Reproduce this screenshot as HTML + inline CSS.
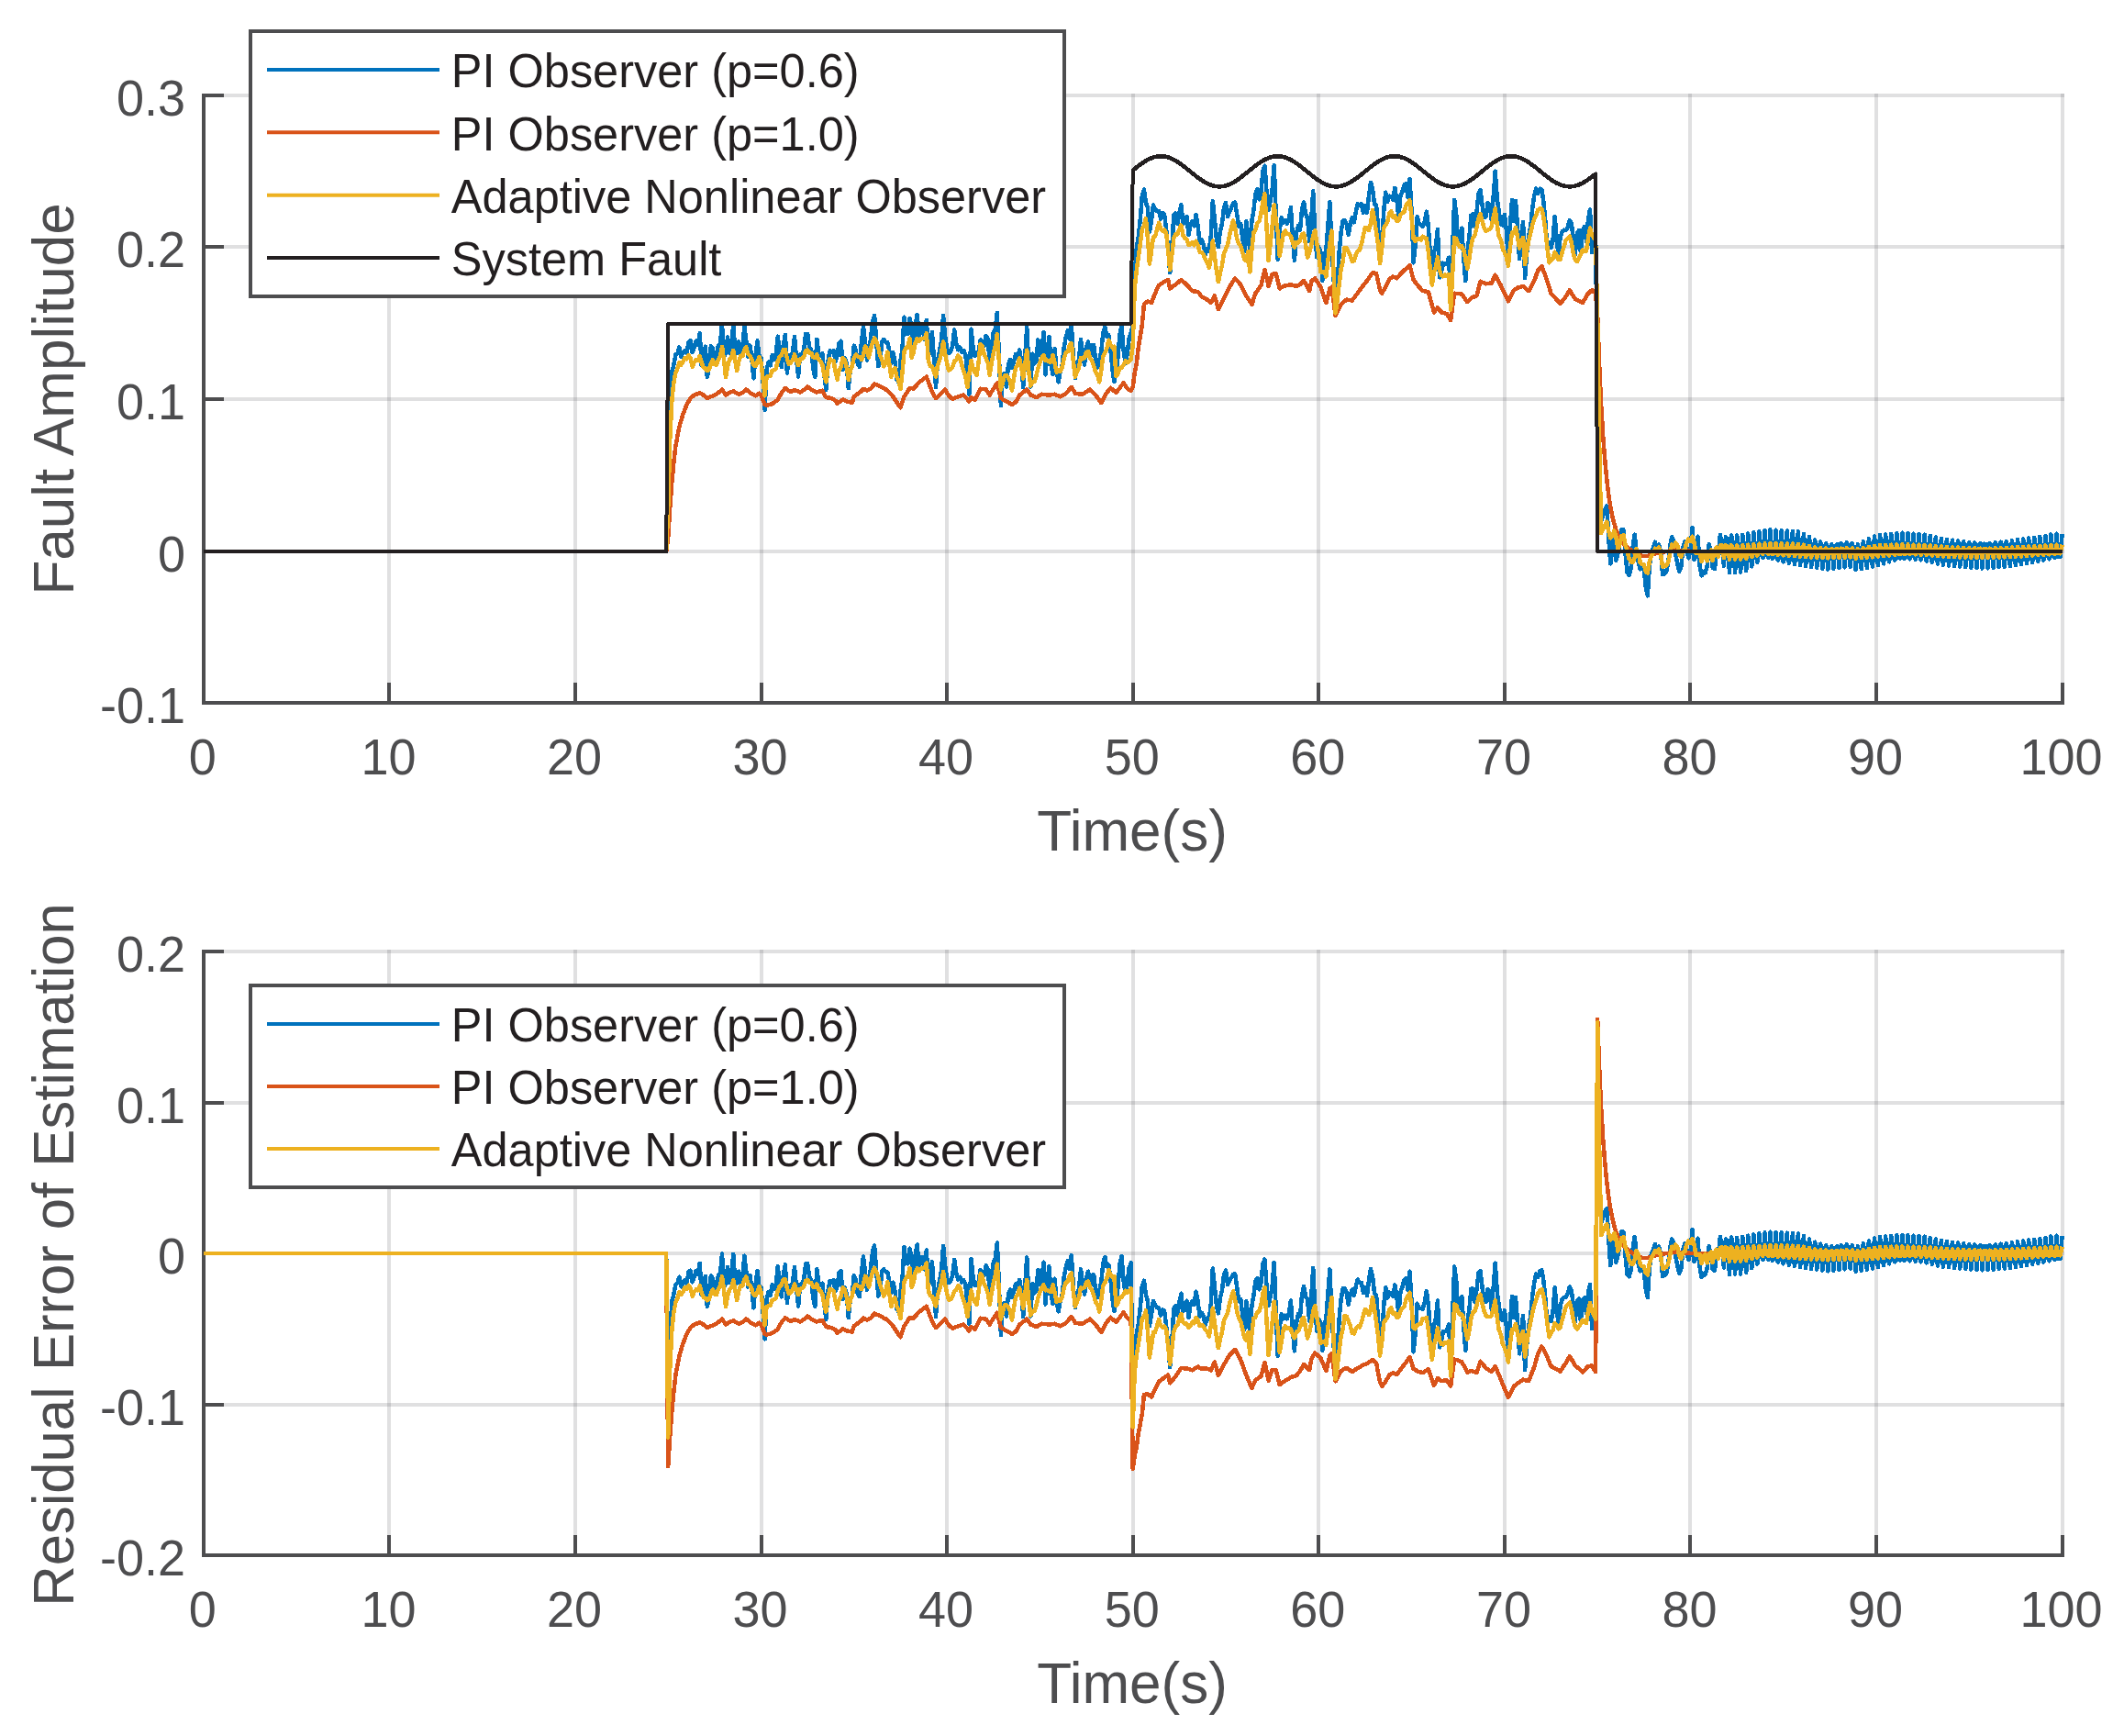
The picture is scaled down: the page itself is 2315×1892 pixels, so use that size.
<!DOCTYPE html>
<html lang="en"><head><meta charset="utf-8"><title>Fault estimation</title>
<style>html,body{margin:0;padding:0;background:#fff}svg{display:block}text{font-family:"Liberation Sans",Arial,Helvetica,sans-serif}.tk{font-size:54px;fill:#4d4d4f}.lb{font-size:62px;fill:#4d4d4f}.lg{font-size:50.5px;fill:#231f20}</style></head><body>
<svg width="2315" height="1892" viewBox="0 0 2315 1892">
<rect width="2315" height="1892" fill="#fff"/>
<path d="M424.0 102.0V766.0M627.0 102.0V766.0M830.0 102.0V766.0M1032.0 102.0V766.0M1235.0 102.0V766.0M1437.0 102.0V766.0M1640.0 102.0V766.0M1842.0 102.0V766.0M2045.0 102.0V766.0M2248.0 102.0V766.0" stroke="#4d4d4f" stroke-opacity=".174" stroke-width="4" fill="none" shape-rendering="crispEdges"/>
<path d="M222 601.0H2250.0M222 435.0H2250.0M222 269.0H2250.0M222 104.0H2250.0" stroke="#4d4d4f" stroke-opacity=".174" stroke-width="4" fill="none" shape-rendering="crispEdges"/>
<path d="M222 104.0V766.0H2248.0" stroke="#4d4d4f" stroke-width="4" fill="none" stroke-linecap="square" stroke-linejoin="miter" shape-rendering="crispEdges"/>
<path d="M222.0 766.0V744.0M424.0 766.0V744.0M627.0 766.0V744.0M830.0 766.0V744.0M1032.0 766.0V744.0M1235.0 766.0V744.0M1437.0 766.0V744.0M1640.0 766.0V744.0M1842.0 766.0V744.0M2045.0 766.0V744.0M2248.0 766.0V744.0M222 766.0H244M222 601.0H244M222 435.0H244M222 269.0H244M222 104.0H244" stroke="#4d4d4f" stroke-width="4" fill="none" shape-rendering="crispEdges"/>
<path d="M726.2 601L728.2 534.7L730.3 443.6L732.3 405.5L734.3 397.7L736.4 386.5L738.4 385.1L740.4 378.4L742.4 389L744.5 383.9L746.5 382L748.5 385.3L750.5 372.8L752.6 371.3L754.6 384.1L756.6 378.7L758.6 371.8L760.7 375.8L762.7 363.3L764.7 398.3L766.7 394.4L768.8 377.6L770.8 410.7L772.8 400.5L774.8 377.2L776.9 380L778.9 391.1L780.9 388.3L782.9 376.6L785 374.4L787 353.1L789 389.2L791 385.1L793.1 367.4L795.1 384.4L797.1 379.6L799.2 353.2L801.2 381.4L803.2 385.1L805.2 372.3L807.3 385.2L809.3 380.8L811.3 355.1L813.3 371.9L815.4 389.2L817.4 376.4L819.4 390.8L821.4 412.4L823.5 387L825.5 371.4L827.5 388.6L829.5 389.7L831.6 415.8L833.6 446.6L835.6 402.8L837.6 394.7L839.7 398.3L841.7 387L843.7 391.7L845.7 386.2L847.8 366.7L849.8 386.7L851.8 400.1L853.8 376.1L855.9 364.9L857.9 406.7L859.9 387.5L862 389.5L864 384L866 367.2L868 390.2L870.1 410.4L872.1 386.5L874.1 386.1L876.1 381.6L878.2 363.9L880.2 363.8L882.2 378.7L884.2 381.3L886.3 401.3L888.3 411L890.3 369.8L892.3 384.4L894.4 387.8L896.4 385.4L898.4 409.3L900.4 424.9L902.5 393.2L904.5 382.4L906.5 384L908.5 382.2L910.6 393.9L912.6 387.8L914.6 373.7L916.6 371.7L918.7 402.9L920.7 389.8L922.7 396.1L924.8 423.2L926.8 401.8L928.8 399.2L930.8 376.7L932.9 381.9L934.9 397.1L936.9 399.9L938.9 373.4L941 356L943 372.8L945 392.6L947 386.7L949.1 367.7L951.1 350.2L953.1 344.1L955.1 370.3L957.2 399.3L959.2 394.6L961.2 372.4L963.2 369.9L965.3 372.7L967.3 373.1L969.3 382.7L971.3 396.4L973.4 384.3L975.4 393.5L977.4 413.6L979.4 416.3L981.5 393.3L983.5 380.1L985.5 345.6L987.6 363.7L989.6 363.8L991.6 347.1L993.6 357.5L995.7 375.3L997.7 353.8L999.7 342.9L1001.7 368.2L1003.8 356.9L1005.8 356.3L1007.8 370.2L1009.8 348.9L1011.9 387.3L1013.9 382.8L1015.9 361.7L1017.9 390.7L1020 422L1022 394L1024 382.5L1026 371.9L1028.1 344.1L1030.1 366L1032.1 379.7L1034.1 384.9L1036.2 382.6L1038.2 377.1L1040.2 359.4L1042.2 373.7L1044.3 381.3L1046.3 378.4L1048.3 384.2L1050.4 382.1L1052.4 386.5L1054.4 412.6L1056.4 429.5L1058.5 358.5L1060.5 378.3L1062.5 387.9L1064.5 386.6L1066.6 383.5L1068.6 370.5L1070.6 372.4L1072.6 376.5L1074.7 365.8L1076.7 369.9L1078.7 394.9L1080.7 378.1L1082.8 361.9L1084.8 358.3L1086.8 340.8L1088.8 385L1090.9 442L1092.9 408.1L1094.9 407.1L1096.9 421.5L1099 397.8L1101 392L1103 400.9L1105 394L1107.1 385.9L1109.1 391.9L1111.1 381.4L1113.2 393.1L1115.2 422L1117.2 389.2L1119.2 356.8L1121.3 397.7L1123.3 421.6L1125.3 385.6L1127.3 396.3L1129.4 393.5L1131.4 370.4L1133.4 386.5L1135.4 381.5L1137.5 362.1L1139.5 408.5L1141.5 382.7L1143.5 366.8L1145.6 398.2L1147.6 408L1149.6 380.2L1151.6 405L1153.7 416.3L1155.7 404.2L1157.7 398L1159.7 378.5L1161.8 367.1L1163.8 360.4L1165.8 369.5L1167.8 354.6L1169.9 389.5L1171.9 411.9L1173.9 400.6L1176 391.2L1178 369.9L1180 385.2L1182 397.4L1184.1 378.9L1186.1 372.3L1188.1 389.8L1190.1 376.4L1192.2 376.1L1194.2 393.5L1196.2 400.7L1198.2 393.3L1200.3 382.8L1202.3 363.1L1204.3 356.2L1206.3 366.9L1208.4 365.3L1210.4 380.8L1212.4 402.1L1214.4 415.9L1216.5 404.9L1218.5 389.4L1220.5 364.4L1222.5 355.4L1224.6 382.2L1226.6 395.7L1228.6 386.8L1230.6 368.8L1232.7 362.9L1234.7 353.8L1236.7 299.8L1238.8 270.1L1240.8 258L1242.8 238.9L1244.8 214.1L1246.9 206.5L1248.9 220.7L1250.9 226.3L1252.9 252.9L1255 239.9L1257 223.6L1259 227.8L1261 229.9L1263.1 230L1265.1 238.4L1267.1 232.1L1269.1 233.7L1271.2 250.7L1273.2 271.7L1275.2 297.3L1277.2 272L1279.3 234.7L1281.3 232.4L1283.3 244.1L1285.3 232.1L1287.4 223.2L1289.4 244.5L1291.4 238L1293.4 235.9L1295.5 256L1297.5 243.9L1299.5 241.5L1301.6 246.4L1303.6 233.9L1305.6 246.1L1307.6 264.7L1309.7 261.5L1311.7 266.3L1313.7 277.4L1315.7 270.9L1317.8 273.5L1319.8 257.1L1321.8 219L1323.8 238.2L1325.9 260.4L1327.9 269.1L1329.9 251.9L1331.9 244.1L1334 226.5L1336 220.8L1338 236.1L1340 230.5L1342.1 226.4L1344.1 221.7L1346.1 220.4L1348.1 232.9L1350.2 246.8L1352.2 243.8L1354.2 258.7L1356.2 274.4L1358.3 241L1360.3 255.7L1362.3 272.5L1364.4 240.8L1366.4 229L1368.4 211.4L1370.4 206.1L1372.5 217.3L1374.5 208.2L1376.5 186L1378.5 180.6L1380.6 210.8L1382.6 229.1L1384.6 219.1L1386.6 207.4L1388.7 180.3L1390.7 233.2L1392.7 283.1L1394.7 251L1396.8 237.3L1398.8 242.8L1400.8 239.9L1402.8 244L1404.9 239.1L1406.9 226L1408.9 258L1410.9 283.7L1413 254.1L1415 245.9L1417 250.5L1419 228.8L1421.1 220.3L1423.1 233.3L1425.1 237.8L1427.2 263.2L1429.2 239.4L1431.2 208.3L1433.2 253.2L1435.3 280.4L1437.3 269.2L1439.3 274.1L1441.3 305.9L1443.4 279.4L1445.4 272.3L1447.4 245.9L1449.4 220.1L1451.5 271L1453.5 302.1L1455.5 339L1457.5 315.3L1459.6 275.2L1461.6 253.4L1463.6 240.8L1465.6 240.2L1467.7 243.9L1469.7 256L1471.7 243.9L1473.7 237.4L1475.8 242.2L1477.8 230.8L1479.8 222.1L1481.8 223.8L1483.9 222.2L1485.9 231.7L1487.9 223.8L1490 231.8L1492 213.2L1494 198.7L1496 205.6L1498.1 222.6L1500.1 223.8L1502.1 247.5L1504.1 286.4L1506.2 266.9L1508.2 230.2L1510.2 209.6L1512.2 220.1L1514.3 213.7L1516.3 214L1518.3 217.7L1520.3 204.8L1522.4 217.7L1524.4 236.6L1526.4 213.5L1528.4 209.1L1530.5 201.5L1532.5 200.4L1534.5 214.7L1536.5 195.2L1538.6 230.8L1540.6 286.3L1542.6 268.3L1544.6 236.3L1546.7 243.4L1548.7 244.8L1550.7 247L1552.8 241L1554.8 230.7L1556.8 246.9L1558.8 276.3L1560.9 304.2L1562.9 275.4L1564.9 268L1566.9 249.9L1569 302.4L1571 296.5L1573 286.7L1575 287.7L1577.1 287L1579.1 280.7L1581.1 323.1L1583.1 273.5L1585.2 217.7L1587.2 232.6L1589.2 264.9L1591.2 259.7L1593.3 248.6L1595.3 281.5L1597.3 306.2L1599.3 274.1L1601.4 258.9L1603.4 234.7L1605.4 233.3L1607.4 246.7L1609.5 230.8L1611.5 211L1613.5 207.3L1615.6 224.3L1617.6 236.6L1619.6 236.3L1621.6 220.8L1623.7 223L1625.7 240L1627.7 214.4L1629.7 186.6L1631.8 217.1L1633.8 231.1L1635.8 244.2L1637.8 245.5L1639.9 233.9L1641.9 251.4L1643.9 285.3L1645.9 246.8L1648 217.7L1650 241L1652 219.2L1654 247.4L1656.1 282L1658.1 255.9L1660.1 241.7L1662.1 302.8L1664.2 275.6L1666.2 257.4L1668.2 247.5L1670.2 227.1L1672.3 212.8L1674.3 205.6L1676.3 210.9L1678.4 205.7L1680.4 206.4L1682.4 219.8L1684.4 241.3L1686.5 271.4L1688.5 264.2L1690.5 269.9L1692.5 262.4L1694.6 235.9L1696.6 258.8L1698.6 279.8L1700.6 258.7L1702.7 252.4L1704.7 250.7L1706.7 251L1708.7 247.5L1710.8 240.1L1712.8 243.9L1714.8 259.5L1716.8 277.4L1718.9 254L1720.9 251L1722.9 275.4L1724.9 250.8L1727 247.1L1729 263L1731 239.1L1733 228.5L1735.1 275.3L1737.1 255.2L1739.1 254.5L1741.2 427L1743.2 518.2L1745.2 567.9L1747.2 561.6L1749.3 555.4L1751.3 551.6L1753.3 585.8L1755.3 614.3L1757.4 582L1759.4 598L1761.4 610.8L1763.4 603.3L1765.5 591.5L1767.5 577L1769.5 577.4L1771.5 603.3L1773.6 624.2L1775.6 626.6L1777.6 619.6L1779.6 595.7L1781.7 582.7L1783.7 602.2L1785.7 613L1787.7 620.4L1789.8 616.1L1791.8 620.3L1793.8 640.3L1795.8 649.3L1797.9 616.3L1799.9 601.6L1801.9 597.5L1803.9 590.7L1806 598L1808 593.5L1810 600.9L1812.1 626.1L1814.1 625.3L1816.1 623.3L1818.1 613.5L1820.2 595.2L1822.2 585.3L1824.2 588.7L1826.2 603.8L1828.3 615L1830.3 623L1832.3 617.5L1834.3 597.1L1836.4 590.4L1838.4 600.3L1840.4 608.3L1842.4 600.7L1844.5 575L1846.5 609.9L1848.5 606.4L1850.5 584.6L1852.6 616.5L1854.6 627.4L1856.6 623.6L1858.6 624.4L1860.7 617L1862.7 593.2L1864.7 602.3L1866.7 618.6L1868.8 620.1L1870.8 604L1872.8 604.2L1874.9 582.8L1876.9 596.3L1878.9 616.7L1880.9 585.3L1883 587L1885 624.1L1887 583.4L1889 592.3L1891.1 623.9L1893.1 583.5L1895.1 597L1897.1 623.7L1899.2 582.8L1901.2 600.7L1903.2 622L1905.2 581.5L1907.3 602L1909.3 617.3L1911.3 580.2L1913.3 602.7L1915.4 612.7L1917.4 579.2L1919.4 602.9L1921.4 608L1923.5 578.2L1925.5 604.4L1927.5 607.7L1929.5 577.3L1931.6 608.8L1933.6 607.4L1935.6 577.7L1937.7 610.6L1939.7 606.2L1941.7 578.1L1943.7 612.4L1945.8 604.9L1947.8 578.5L1949.8 613.9L1951.8 603.2L1953.9 578.9L1955.9 615L1957.9 601.3L1959.9 579.3L1962 616L1964 599.8L1966 581.7L1968 617L1970.1 599.5L1972.1 585.2L1974.1 618L1976.1 599.5L1978.2 588.6L1980.2 618.9L1982.2 599.2L1984.2 590.6L1986.3 619.7L1988.3 598.1L1990.3 591.8L1992.3 620.6L1994.4 596.9L1996.4 593.1L1998.4 619.8L2000.5 594.9L2002.5 592.9L2004.5 619.1L2006.5 592.3L2008.6 593.9L2010.6 618.4L2012.6 591.4L2014.6 595.6L2016.7 617.7L2018.7 591.8L2020.7 600L2022.7 621.2L2024.8 593.1L2026.8 602L2028.8 620.1L2030.8 590.2L2032.9 602.2L2034.9 618.9L2036.9 587.3L2038.9 602.6L2041 617.5L2043 584.4L2045 603.2L2047 616.1L2049.1 583L2051.1 604.7L2053.1 614.3L2055.1 582.4L2057.2 605.9L2059.2 612.3L2061.2 581.7L2063.3 607L2065.3 610.4L2067.3 581.1L2069.3 608.1L2071.4 608.5L2073.4 580.7L2075.4 608.8L2077.4 606.8L2079.5 581.1L2081.5 609.4L2083.5 605.3L2085.5 581.5L2087.6 609.9L2089.6 603.9L2091.6 581.9L2093.6 610.4L2095.7 602.5L2097.7 582.6L2099.7 611.6L2101.7 602.2L2103.8 584L2105.8 613.1L2107.8 601.9L2109.8 585.4L2111.9 614.6L2113.9 601.6L2115.9 586.8L2117.9 615.8L2120 601L2122 588L2124 616.4L2126.1 600L2128.1 588.7L2130.1 617.1L2132.1 598.9L2134.2 589.4L2136.2 617.7L2138.2 597.8L2140.2 590.1L2142.3 618.2L2144.3 596.7L2146.3 590.8L2148.3 618.7L2150.4 595.4L2152.4 591.5L2154.4 619.1L2156.4 594.1L2158.5 592.2L2160.5 619.6L2162.5 592.7L2164.5 593.3L2166.6 619.3L2168.6 592L2170.6 594.8L2172.6 618.8L2174.7 591.3L2176.7 596.2L2178.7 618.2L2180.7 590.6L2182.8 597.6L2184.8 617.7L2186.8 589.9L2188.9 598.8L2190.9 617.1L2192.9 589.1L2194.9 599.9L2197 616.2L2199 588.2L2201 600.8L2203 615.2L2205.1 587.4L2207.1 601.7L2209.1 614.1L2211.1 586.5L2213.2 602.6L2215.2 613.1L2217.2 585.7L2219.2 603.4L2221.3 611.9L2223.3 584.8L2225.3 604.1L2227.3 610.6L2229.4 583.8L2231.4 604.8L2233.4 609.3L2235.4 582.4L2237.5 605.5L2239.5 608.1L2241.5 581.5L2243.5 606.6L2245.6 607L2247.6 581.7" stroke="#0072bd" stroke-width="4.5" fill="none" stroke-linejoin="round" stroke-linecap="butt" shape-rendering="crispEdges"/>
<path d="M726.2 601L728.2 586.1L730.3 552.3L732.3 525.8L734.3 504.9L736.4 485.9L738.4 475.5L740.4 465.1L742.4 458.2L744.5 451.3L746.5 446.1L748.5 440.9L750.5 437.5L752.6 434L754.6 432.3L756.6 430.6L758.6 429.8L760.7 429.1L762.7 428.3L764.7 429.5L766.7 430.6L768.8 432.3L770.8 434L772.8 433.2L774.8 432.3L776.9 431.4L778.9 430.6L780.9 429.7L782.9 428L785 426.3L787 424.5L789 427.6L791 430.6L793.1 429.3L795.1 428L797.1 427.1L799.2 426.3L801.2 427.4L803.2 428.6L805.2 429.7L807.3 428.8L809.3 428L811.3 426.3L813.3 424.5L815.4 426.3L817.4 428L819.4 429.1L821.4 430.3L823.5 431.4L825.5 430.1L827.5 428.8L829.5 430.6L831.6 435.8L833.6 440.9L835.6 441.8L837.6 441.2L839.7 440.7L841.7 440.1L843.7 438.6L845.7 437.2L847.8 435.8L849.8 431.9L851.8 428L853.8 425.6L855.9 423.1L857.9 424.5L859.9 425.8L862 427.1L864 426.1L866 425L868 425.9L870.1 426.7L872.1 427.5L874.1 426.3L876.1 425L878.2 423.3L880.2 421.6L882.2 423L884.2 424.4L886.3 425.7L888.3 426.6L890.3 427.5L892.3 426.9L894.4 426.3L896.4 425.7L898.4 429.5L900.4 433.2L902.5 433.5L904.5 433.7L906.5 434L908.5 435.3L910.6 436.6L912.6 439.7L914.6 438.3L916.6 436.9L918.7 435.4L920.7 436.4L922.7 437.5L924.8 437.9L926.8 438.3L928.8 438.7L930.8 432.3L932.9 430.7L934.9 429.2L936.9 427.7L938.9 426.3L941 423.7L943 424.5L945 425.4L947 424.5L949.1 423.7L951.1 421.1L953.1 418.5L955.1 419.3L957.2 420.2L959.2 421.2L961.2 422.3L963.2 423.3L965.3 424.4L967.3 425.4L969.3 427.7L971.3 430L973.4 432.3L975.4 435.3L977.4 438.3L979.4 441.4L981.5 444.4L983.5 438.3L985.5 432.3L987.6 429.1L989.6 426L991.6 422.8L993.6 423.2L995.7 423.7L997.7 421.4L999.7 419.1L1001.7 416.8L1003.8 415.2L1005.8 413.7L1007.8 412.2L1009.8 410.7L1011.9 416.2L1013.9 421.6L1015.9 427.1L1017.9 430.6L1020 434L1022 432.3L1024 430.6L1026 428.6L1028.1 426.5L1030.1 424.5L1032.1 428L1034.1 431.4L1036.2 433.2L1038.2 434.9L1040.2 434L1042.2 433.2L1044.3 432.3L1046.3 431.7L1048.3 431.1L1050.4 430.6L1052.4 432.9L1054.4 435.2L1056.4 437.5L1058.5 433.2L1060.5 434.5L1062.5 435.8L1064.5 431.7L1066.6 427.7L1068.6 423.7L1070.6 424L1072.6 424.2L1074.7 424.5L1076.7 427.6L1078.7 430.6L1080.7 427.1L1082.8 423.7L1084.8 420.6L1086.8 417.6L1088.8 425.8L1090.9 434L1092.9 435.2L1094.9 436.3L1096.9 437.5L1099 438.6L1101 439.8L1103 440.9L1105 439.6L1107.1 438.3L1109.1 434.5L1111.1 430.6L1113.2 429.1L1115.2 427.6L1117.2 426L1119.2 424.5L1121.3 427.6L1123.3 430.6L1125.3 431.4L1127.3 432.3L1129.4 433.2L1131.4 432L1133.4 430.9L1135.4 429.7L1137.5 429.9L1139.5 430.1L1141.5 430.4L1143.5 430.6L1145.6 430.3L1147.6 430L1149.6 429.7L1151.6 430.6L1153.7 431.4L1155.7 432.3L1157.7 431.1L1159.7 430L1161.8 428.8L1163.8 426.5L1165.8 424.2L1167.8 421.9L1169.9 425.4L1171.9 428.8L1173.9 429.1L1176 429.3L1178 429.5L1180 429.7L1182 428.4L1184.1 427.1L1186.1 425.8L1188.1 424.5L1190.1 426.5L1192.2 428.6L1194.2 430.6L1196.2 433.5L1198.2 436.3L1200.3 439.2L1202.3 435.5L1204.3 431.7L1206.3 428L1208.4 425.4L1210.4 422.8L1212.4 424.5L1214.4 426.3L1216.5 428L1218.5 425.3L1220.5 422.6L1222.5 420L1224.6 417.3L1226.6 420.3L1228.6 423.3L1230.6 424.6L1232.7 425.9L1234.7 422L1236.7 406.1L1238.8 395.7L1240.8 378.4L1242.8 366.3L1244.8 354.2L1246.9 331.8L1248.9 330L1250.9 328.3L1252.9 329.2L1255 330L1257 324.9L1259 319.7L1261 315.4L1263.1 311L1265.1 309.6L1267.1 308.2L1269.1 306.7L1271.2 305.9L1273.2 305L1275.2 314.5L1277.2 313.1L1279.3 311.6L1281.3 310.2L1283.3 308.5L1285.3 306.7L1287.4 305L1289.4 306.7L1291.4 308.5L1293.4 310.2L1295.5 312.5L1297.5 314.8L1299.5 317.1L1301.6 317.4L1303.6 317.7L1305.6 318L1307.6 320.5L1309.7 323.1L1311.7 324.3L1313.7 325.4L1315.7 326.6L1317.8 328.3L1319.8 330L1321.8 326.2L1323.8 322.3L1325.9 329.6L1327.9 337L1329.9 332.9L1331.9 328.9L1334 324.9L1336 320.8L1338 316.8L1340 312.8L1342.1 309.6L1344.1 306.4L1346.1 303.3L1348.1 305.6L1350.2 307.9L1352.2 310.2L1354.2 314.2L1356.2 318.2L1358.3 322.3L1360.3 325.4L1362.3 328.6L1364.4 331.8L1366.4 325.7L1368.4 319.7L1370.4 316.8L1372.5 313.9L1374.5 311L1376.5 302.4L1378.5 293.8L1380.6 302.8L1382.6 311.9L1384.6 305.4L1386.6 298.9L1388.7 298.5L1390.7 298.1L1392.7 306.3L1394.7 314.5L1396.8 313.2L1398.8 311.9L1400.8 311.5L1402.8 311L1404.9 310.6L1406.9 310.2L1408.9 310.8L1410.9 311.3L1413 311.9L1415 311L1417 310.2L1419 308L1421.1 305.9L1423.1 309.6L1425.1 313.3L1427.2 317.1L1429.2 306.7L1431.2 305L1433.2 303.3L1435.3 306.4L1437.3 309.6L1439.3 312.8L1441.3 318.5L1443.4 324.3L1445.4 330L1447.4 322.3L1449.4 314.5L1451.5 312.8L1453.5 328.3L1455.5 343.9L1457.5 339.8L1459.6 335.8L1461.6 331.8L1463.6 330L1465.6 328.3L1467.7 326.6L1469.7 326.9L1471.7 327.2L1473.7 327.5L1475.8 324.7L1477.8 322L1479.8 319.3L1481.8 316.5L1483.9 313.8L1485.9 311L1487.9 308.5L1490 305.9L1492 303L1494 300.1L1496 297.2L1498.1 297.7L1500.1 298.1L1502.1 307.2L1504.1 316.2L1506.2 319.7L1508.2 316.2L1510.2 312.8L1512.2 308.5L1514.3 304.1L1516.3 302.8L1518.3 301.5L1520.3 302.4L1522.4 303.3L1524.4 301L1526.4 298.7L1528.4 296.4L1530.5 294.6L1532.5 292.9L1534.5 291.2L1536.5 289.4L1538.6 297.2L1540.6 305L1542.6 307.6L1544.6 310.2L1546.7 312.8L1548.7 314.9L1550.7 317.1L1552.8 317.4L1554.8 317.7L1556.8 318L1558.8 325.4L1560.9 332.9L1562.9 340.4L1564.9 337.8L1566.9 335.2L1569 337.8L1571 340.4L1573 341L1575 341.6L1577.1 342.1L1579.1 345.6L1581.1 349.1L1583.1 334.4L1585.2 319.7L1587.2 319.9L1589.2 320.1L1591.2 320.3L1593.3 320.5L1595.3 323.4L1597.3 326.3L1599.3 329.2L1601.4 327L1603.4 324.9L1605.4 324L1607.4 323.1L1609.5 322.3L1611.5 314.5L1613.5 306.7L1615.6 307.6L1617.6 308.5L1619.6 309.3L1621.6 309L1623.7 308.7L1625.7 308.5L1627.7 304.1L1629.7 299.8L1631.8 303.6L1633.8 307.3L1635.8 311L1637.8 315.4L1639.9 319.7L1641.9 324L1643.9 328.3L1645.9 324.3L1648 320.3L1650 316.2L1652 314.9L1654 313.6L1656.1 313.1L1658.1 312.5L1660.1 311.9L1662.1 313.6L1664.2 315.4L1666.2 317.1L1668.2 313.3L1670.2 309.6L1672.3 305.9L1674.3 300.2L1676.3 294.6L1678.4 292.5L1680.4 290.3L1682.4 295.5L1684.4 300.7L1686.5 307L1688.5 313.3L1690.5 319.7L1692.5 322L1694.6 324.3L1696.6 326.6L1698.6 328.8L1700.6 330.9L1702.7 328.3L1704.7 325.7L1706.7 323.1L1708.7 319.7L1710.8 316.2L1712.8 319.4L1714.8 322.6L1716.8 325.7L1718.9 326.8L1720.9 327.9L1722.9 329L1724.9 330L1727 326.6L1729 323.1L1731 319.7L1733 318L1735.1 316.2L1737.1 318L1739.1 319.7L1741.2 344.2L1743.2 398.6L1745.2 441.5L1747.2 475.3L1749.3 501.9L1751.3 522.9L1753.3 539.5L1755.3 552.5L1757.4 562.8L1759.4 570.9L1761.4 577.3L1763.4 582.4L1765.5 586.4L1767.5 589.7L1769.5 592.3L1771.5 594.5L1773.6 596.4L1775.6 598.1L1777.6 599.6L1779.6 601L1781.7 602.3L1783.7 603.5L1785.7 604.5L1787.7 605.3L1789.8 605.8L1791.8 606.1L1793.8 606.2L1795.8 605.9L1797.9 605.5L1799.9 604.9L1801.9 604.3L1803.9 603.6L1806 603L1808 602.4L1810 602L1812.1 601.6L1814.1 601.3L1816.1 601L1818.1 600.7L1820.2 600.4L1822.2 600.1L1824.2 599.9L1826.2 599.7L1830.3 599.7L1832.3 599.9L1834.3 600.1L1836.4 600.3L1838.4 600.5L1840.4 600.7L1842.4 600.8L1844.5 600.9L1846.5 600.9L1848.5 601L1852.6 601" stroke="#d95319" stroke-width="4.5" fill="none" stroke-linejoin="round" stroke-linecap="butt" shape-rendering="crispEdges"/>
<path d="M726.2 601L728.2 554.6L730.3 476.7L732.3 437L734.3 417.1L736.4 406.4L738.4 401.6L740.4 395.1L742.4 397.6L744.5 394.3L746.5 390.2L748.5 391.4L750.5 387.3L752.6 390.5L754.6 399.6L756.6 395L758.6 392.3L760.7 393.1L762.7 387.9L764.7 395.4L766.7 400.5L768.8 401.6L770.8 404.2L772.8 402.9L774.8 396.6L776.9 392.1L778.9 397.2L780.9 397.9L782.9 391.9L785 387.9L787 377.8L789 392L791 411L793.1 399.3L795.1 391.9L797.1 390.2L799.2 381.9L801.2 392L803.2 404.1L805.2 393.9L807.3 387.6L809.3 388.1L811.3 381.1L813.3 378.2L815.4 386.2L817.4 387.5L819.4 391.9L821.4 398.2L823.5 398.8L825.5 394.5L827.5 389.2L829.5 395.2L831.6 412.4L833.6 431.5L835.6 410.7L837.6 410.2L839.7 409.5L841.7 403.8L843.7 403.2L845.7 402L847.8 393.3L849.8 388.6L851.8 387.1L853.8 381.1L855.9 380.9L857.9 390.9L859.9 396.7L862 395.2L864 392.2L866 386.2L868 392.5L870.1 398.1L872.1 391.5L874.1 390.9L876.1 389.3L878.2 382.3L880.2 381.5L882.2 384.5L884.2 384.8L886.3 389.4L888.3 389.9L890.3 386.2L892.3 392.1L894.4 394L896.4 397.9L898.4 409.2L900.4 416.4L902.5 400.2L904.5 391.4L906.5 392.9L908.5 393.3L910.6 405L912.6 413.6L914.6 403.2L916.6 399.9L918.7 390L920.7 392.5L922.7 400.3L924.8 414.1L926.8 403.9L928.8 398.7L930.8 389.7L932.9 386.6L934.9 388.3L936.9 389.1L938.9 392L941 386.8L943 377.4L945 380.4L947 389.4L949.1 379.8L951.1 372.8L953.1 368.6L955.1 372.3L957.2 378.4L959.2 387.4L961.2 392L963.2 399.3L965.3 394.9L967.3 383.7L969.3 396.8L971.3 411L973.4 403.5L975.4 401.2L977.4 410.4L979.4 415.2L981.5 423.9L983.5 405.8L985.5 383.4L987.6 379.3L989.6 376.9L991.6 368.6L993.6 389.6L995.7 384.4L997.7 373.5L999.7 369L1001.7 371.9L1003.8 369.3L1005.8 368.8L1007.8 368.6L1009.8 363.2L1011.9 393.5L1013.9 399L1015.9 399.4L1017.9 405.3L1020 410.6L1022 398.1L1024 392.9L1026 384.9L1028.1 372.5L1030.1 385.8L1032.1 396L1034.1 403.6L1036.2 402.7L1038.2 399.9L1040.2 393.7L1042.2 392.4L1044.3 387.6L1046.3 389.7L1048.3 397.7L1050.4 404.9L1052.4 410.5L1054.4 422.1L1056.4 408.2L1058.5 393.1L1060.5 401.6L1062.5 405.8L1064.5 408.8L1066.6 394.7L1068.6 375L1070.6 377.6L1072.6 386.1L1074.7 390.5L1076.7 395.9L1078.7 408.8L1080.7 396.4L1082.8 384.6L1084.8 376.8L1086.8 364.3L1088.8 392.4L1090.9 424.5L1092.9 417.2L1094.9 409.6L1096.9 408.9L1099 411.5L1101 416L1103 425.5L1105 411.8L1107.1 400.4L1109.1 398.3L1111.1 390.5L1113.2 400.1L1115.2 412.6L1117.2 397.2L1119.2 381.6L1121.3 404.8L1123.3 420.5L1125.3 416.4L1127.3 416.2L1129.4 410L1131.4 401.1L1133.4 395.4L1135.4 389.9L1137.5 387.2L1139.5 393.1L1141.5 392.7L1143.5 394.3L1145.6 394.5L1147.6 387.1L1149.6 395.7L1151.6 405.8L1153.7 403.4L1155.7 404.9L1157.7 400L1159.7 390.6L1161.8 384.2L1163.8 383.2L1165.8 376.4L1167.8 374L1169.9 394.5L1171.9 410.9L1173.9 405.3L1176 400.5L1178 390.3L1180 390.7L1182 390L1184.1 383.9L1186.1 383.1L1188.1 390.5L1190.1 392.8L1192.2 398.8L1194.2 406L1196.2 408.3L1198.2 416.3L1200.3 403.6L1202.3 388L1204.3 384.7L1206.3 379.8L1208.4 370.7L1210.4 375.6L1212.4 378.6L1214.4 377.6L1216.5 409.8L1218.5 407.1L1220.5 400.8L1222.5 400.6L1224.6 397.6L1226.6 393.5L1228.6 395.3L1230.6 394.1L1232.7 391.2L1234.7 376.5L1236.7 314.4L1238.8 294.4L1240.8 280.3L1242.8 265.9L1244.8 249.5L1246.9 245.9L1248.9 238.1L1250.9 259.1L1252.9 287.5L1255 273.4L1257 258.2L1259 257.6L1261 250.5L1263.1 242.7L1265.1 249.6L1267.1 251.5L1269.1 250.5L1271.2 254.9L1273.2 273.4L1275.2 293.9L1277.2 278.8L1279.3 259.8L1281.3 255.2L1283.3 255.4L1285.3 250L1287.4 245.6L1289.4 256.3L1291.4 259.6L1293.4 261L1295.5 266.7L1297.5 266.4L1299.5 264.2L1301.6 267.2L1303.6 262.7L1305.6 266.9L1307.6 274.7L1309.7 274.8L1311.7 277.2L1313.7 282.8L1315.7 285.9L1317.8 292L1319.8 281L1321.8 262.4L1323.8 278.3L1325.9 294.9L1327.9 307.2L1329.9 297.5L1331.9 289.7L1334 276L1336 271.6L1338 267.1L1340 256.8L1342.1 248L1344.1 240.3L1346.1 247.7L1348.1 259.8L1350.2 265.8L1352.2 267.8L1354.2 274.9L1356.2 282.2L1358.3 284.3L1360.3 274L1362.3 296.3L1364.4 271.3L1366.4 253.3L1368.4 250.7L1370.4 243.2L1372.5 241.4L1374.5 232.4L1376.5 219L1378.5 211.3L1380.6 249L1382.6 284.1L1384.6 265.9L1386.6 247.5L1388.7 223.5L1390.7 239.2L1392.7 252.6L1394.7 278.9L1396.8 267.1L1398.8 254.2L1400.8 251.4L1402.8 254.7L1404.9 254.9L1406.9 257.5L1408.9 264.4L1410.9 269.5L1413 264.2L1415 264.8L1417 261.8L1419 255.2L1421.1 254.5L1423.1 267.5L1425.1 280.7L1427.2 275.4L1429.2 267.3L1431.2 256.5L1433.2 251.2L1435.3 265.5L1437.3 277.3L1439.3 296.3L1441.3 296.5L1443.4 296.4L1445.4 301.6L1447.4 284.2L1449.4 265.3L1451.5 251.5L1453.5 295.8L1455.5 341.5L1457.5 328.8L1459.6 310.4L1461.6 293.2L1463.6 285.3L1465.6 269.9L1467.7 269.9L1469.7 274.1L1471.7 278L1473.7 284.7L1475.8 284.2L1477.8 277.7L1479.8 273.5L1481.8 272.8L1483.9 266.1L1485.9 256.4L1487.9 248.2L1490 248.7L1492 251.1L1494 243.5L1496 228.7L1498.1 239.8L1500.1 253.4L1502.1 267.5L1504.1 287.1L1506.2 270.7L1508.2 248.6L1510.2 245.1L1512.2 241.8L1514.3 232.7L1516.3 230.3L1518.3 236.6L1520.3 235.5L1522.4 240.9L1524.4 240.3L1526.4 234.3L1528.4 231.8L1530.5 231.3L1532.5 223.8L1534.5 221.2L1536.5 218.5L1538.6 237.5L1540.6 260.3L1542.6 262.6L1544.6 260L1546.7 260.5L1548.7 261.5L1550.7 257.6L1552.8 259.4L1554.8 259.7L1556.8 274.5L1558.8 293.1L1560.9 310.6L1562.9 296.7L1564.9 290.5L1566.9 280.2L1569 295L1571 300.1L1573 301.3L1575 299.6L1577.1 300.9L1579.1 299L1581.1 337.6L1583.1 299.3L1585.2 259.1L1587.2 259.8L1589.2 266.5L1591.2 269.3L1593.3 268.5L1595.3 272.4L1597.3 283.1L1599.3 292.8L1601.4 282.3L1603.4 267.4L1605.4 259.2L1607.4 256.4L1609.5 248.2L1611.5 237.9L1613.5 233.2L1615.6 241.6L1617.6 248L1619.6 252L1621.6 250.8L1623.7 249.8L1625.7 246.9L1627.7 236.8L1629.7 227.4L1631.8 245.5L1633.8 258L1635.8 261.5L1637.8 271.2L1639.9 275.2L1641.9 280.3L1643.9 289.7L1645.9 269.9L1648 253.6L1650 253.8L1652 248L1654 258.4L1656.1 270.7L1658.1 262.7L1660.1 259L1662.1 288L1664.2 273.5L1666.2 262.1L1668.2 254.1L1670.2 245.1L1672.3 238.5L1674.3 234.4L1676.3 228.8L1678.4 227.1L1680.4 227.4L1682.4 237.1L1684.4 250.9L1686.5 270.7L1688.5 286.3L1690.5 283.3L1692.5 281.6L1694.6 274.7L1696.6 278.3L1698.6 283.2L1700.6 282.6L1702.7 274.7L1704.7 268.7L1706.7 261.5L1708.7 259.5L1710.8 257.4L1712.8 264.7L1714.8 275.9L1716.8 282.9L1718.9 285L1720.9 281.6L1722.9 277.2L1724.9 272.6L1727 273.8L1729 273.6L1731 259L1733 248.6L1735.1 256.1L1737.1 259L1739.1 261.7L1741.2 347.5L1743.2 485L1745.2 581.1L1747.2 576.6L1749.3 572.1L1751.3 568.7L1753.3 579.4L1755.3 586.3L1757.4 584.4L1759.4 578.6L1761.4 584.9L1763.4 598.6L1765.5 593.1L1767.5 584.4L1769.5 583.2L1771.5 593.3L1773.6 600.4L1775.6 608.7L1777.6 612.2L1779.6 613.1L1781.7 608L1783.7 598L1785.7 601.9L1787.7 613.1L1789.8 615.2L1791.8 615.3L1793.8 622.7L1795.8 624.6L1797.9 611.8L1799.9 606.2L1801.9 602.6L1803.9 597.7L1806 599.9L1808 596.2L1810 603.4L1812.1 617.6L1814.1 617.2L1816.1 616.2L1818.1 613L1820.2 603.5L1822.2 593.6L1824.2 595.8L1826.2 591.6L1828.3 594.6L1830.3 604.2L1832.3 606.9L1834.3 599.9L1836.4 599L1838.4 591.3L1840.4 587.5L1842.4 589.7L1844.5 584.8L1846.5 590.8L1848.5 603.2L1850.5 601.9L1852.6 602.2L1854.6 612.1L1856.6 604.8L1858.6 601.7L1860.7 611.4L1862.7 602.5L1864.7 599.6L1866.7 611.2L1868.8 599.8L1870.8 596.6L1872.8 607L1874.9 594.7L1876.9 594.2L1878.9 607.9L1880.9 594.2L1883 595.7L1885 609.8L1887 594.3L1889 597.7L1891.1 609.7L1893.1 594.4L1895.1 599.5L1897.1 609.6L1899.2 594.1L1901.2 600.9L1903.2 609L1905.2 593.6L1907.3 601.4L1909.3 607.2L1911.3 593.1L1913.3 601.6L1915.4 605.4L1917.4 592.7L1919.4 601.7L1921.4 603.7L1923.5 592.4L1925.5 602.3L1927.5 603.5L1929.5 592L1931.6 604L1933.6 603.4L1935.6 592.1L1937.7 604.7L1939.7 603L1941.7 592.3L1943.7 605.3L1945.8 602.5L1947.8 592.5L1949.8 605.9L1951.8 601.8L1953.9 592.6L1955.9 606.3L1957.9 601.1L1959.9 592.8L1962 606.7L1964 600.5L1966 593.7L1968 607.1L1970.1 600.4L1972.1 595L1974.1 607.5L1976.1 600.4L1978.2 596.3L1980.2 607.8L1982.2 600.3L1984.2 597L1986.3 608.1L1988.3 599.9L1990.3 597.5L1992.3 608.4L1994.4 599.4L1996.4 598L1998.4 608.2L2000.5 598.7L2002.5 597.9L2004.5 607.9L2006.5 597.7L2008.6 598.3L2010.6 607.6L2012.6 597.3L2014.6 598.9L2016.7 607.4L2018.7 597.5L2020.7 600.6L2022.7 608.7L2024.8 598L2026.8 601.4L2028.8 608.2L2030.8 596.9L2032.9 601.4L2034.9 607.8L2036.9 595.8L2038.9 601.6L2041 607.3L2043 594.7L2045 601.8L2047 606.7L2049.1 594.2L2051.1 602.4L2053.1 606L2055.1 593.9L2057.2 602.9L2059.2 605.3L2061.2 593.7L2063.3 603.3L2065.3 604.6L2067.3 593.4L2069.3 603.7L2071.4 603.8L2073.4 593.3L2075.4 604L2077.4 603.2L2079.5 593.4L2081.5 604.2L2083.5 602.6L2085.5 593.6L2087.6 604.4L2089.6 602.1L2091.6 593.7L2093.6 604.6L2095.7 601.6L2097.7 594L2099.7 605L2101.7 601.4L2103.8 594.5L2105.8 605.6L2107.8 601.3L2109.8 595.1L2111.9 606.2L2113.9 601.2L2115.9 595.6L2117.9 606.6L2120 601L2122 596.1L2124 606.9L2126.1 600.6L2128.1 596.3L2130.1 607.1L2132.1 600.2L2134.2 596.6L2136.2 607.4L2138.2 599.8L2140.2 596.9L2142.3 607.5L2144.3 599.3L2146.3 597.1L2148.3 607.7L2150.4 598.9L2152.4 597.4L2154.4 607.9L2156.4 598.4L2158.5 597.7L2160.5 608.1L2162.5 597.9L2164.5 598.1L2166.6 608L2168.6 597.6L2170.6 598.6L2172.6 607.8L2174.7 597.3L2176.7 599.2L2178.7 607.5L2180.7 597L2182.8 599.7L2184.8 607.3L2186.8 596.8L2188.9 600.2L2190.9 607.1L2192.9 596.5L2194.9 600.6L2197 606.8L2199 596.1L2201 600.9L2203 606.4L2205.1 595.8L2207.1 601.3L2209.1 606L2211.1 595.5L2213.2 601.6L2215.2 605.6L2217.2 595.2L2219.2 601.9L2221.3 605.1L2223.3 594.9L2225.3 602.2L2227.3 604.7L2229.4 594.5L2231.4 602.4L2233.4 604.2L2235.4 593.9L2237.5 602.7L2239.5 603.7L2241.5 593.6L2243.5 603.1L2245.6 603.3L2247.6 593.7" stroke="#edb120" stroke-width="4.5" fill="none" stroke-linejoin="round" stroke-linecap="butt" shape-rendering="crispEdges"/>
<path d="M221.8 601L726.2 601L728.2 352.5L1232.7 352.5L1234.7 185.7L1236.7 184L1238.8 182.4L1240.8 180.8L1242.8 179.3L1244.8 177.9L1246.9 176.5L1248.9 175.3L1250.9 174.1L1252.9 173.1L1255 172.3L1257 171.5L1259 171L1261 170.5L1263.1 170.3L1265.1 170.2L1267.1 170.3L1269.1 170.5L1271.2 170.9L1273.2 171.4L1275.2 172.2L1277.2 173L1279.3 174L1281.3 175.1L1283.3 176.4L1285.3 177.7L1287.4 179.1L1289.4 180.6L1291.4 182.2L1293.4 183.8L1295.5 185.5L1297.5 187.1L1299.5 188.8L1301.6 190.4L1303.6 192L1305.6 193.6L1307.6 195L1309.7 196.4L1311.7 197.7L1313.7 198.9L1315.7 200L1317.8 200.9L1319.8 201.7L1321.8 202.3L1323.8 202.8L1325.9 203.1L1327.9 203.3L1329.9 203.3L1331.9 203.1L1334 202.8L1336 202.3L1338 201.7L1340 200.9L1342.1 199.9L1344.1 198.9L1346.1 197.7L1348.1 196.4L1350.2 195L1352.2 193.5L1354.2 191.9L1356.2 190.3L1358.3 188.7L1360.3 187.1L1362.3 185.4L1364.4 183.8L1366.4 182.1L1368.4 180.6L1370.4 179.1L1372.5 177.7L1374.5 176.3L1376.5 175.1L1378.5 174L1380.6 173L1382.6 172.1L1384.6 171.4L1386.6 170.9L1388.7 170.5L1390.7 170.2L1392.7 170.2L1394.7 170.3L1396.8 170.5L1398.8 171L1400.8 171.6L1402.8 172.3L1404.9 173.2L1406.9 174.2L1408.9 175.3L1410.9 176.6L1413 177.9L1415 179.4L1417 180.9L1419 182.5L1421.1 184.1L1423.1 185.8L1425.1 187.4L1427.2 189.1L1429.2 190.7L1431.2 192.3L1433.2 193.8L1435.3 195.3L1437.3 196.6L1439.3 197.9L1441.3 199.1L1443.4 200.1L1445.4 201L1447.4 201.8L1449.4 202.4L1451.5 202.9L1453.5 203.2L1455.5 203.3L1457.5 203.3L1459.6 203.1L1461.6 202.7L1463.6 202.2L1465.6 201.5L1467.7 200.7L1469.7 199.7L1471.7 198.7L1473.7 197.4L1475.8 196.1L1477.8 194.7L1479.8 193.2L1481.8 191.7L1483.9 190.1L1485.9 188.4L1487.9 186.8L1490 185.1L1492 183.5L1494 181.9L1496 180.3L1498.1 178.8L1500.1 177.4L1502.1 176.1L1504.1 174.9L1506.2 173.8L1508.2 172.8L1510.2 172L1512.2 171.3L1514.3 170.8L1516.3 170.4L1518.3 170.2L1520.3 170.2L1522.4 170.3L1524.4 170.6L1526.4 171.1L1528.4 171.7L1530.5 172.4L1532.5 173.3L1534.5 174.4L1536.5 175.5L1538.6 176.8L1540.6 178.2L1542.6 179.6L1544.6 181.2L1546.7 182.8L1548.7 184.4L1550.7 186L1552.8 187.7L1554.8 189.3L1556.8 191L1558.8 192.5L1560.9 194.1L1562.9 195.5L1564.9 196.9L1566.9 198.1L1569 199.3L1571 200.3L1573 201.2L1575 201.9L1577.1 202.5L1579.1 202.9L1581.1 203.2L1583.1 203.3L1585.2 203.3L1587.2 203L1589.2 202.6L1591.2 202.1L1593.3 201.4L1595.3 200.6L1597.3 199.6L1599.3 198.5L1601.4 197.2L1603.4 195.9L1605.4 194.5L1607.4 193L1609.5 191.4L1611.5 189.8L1613.5 188.2L1615.6 186.5L1617.6 184.8L1619.6 183.2L1621.6 181.6L1623.7 180.1L1625.7 178.6L1627.7 177.2L1629.7 175.9L1631.8 174.7L1633.8 173.6L1635.8 172.7L1637.8 171.9L1639.9 171.2L1641.9 170.7L1643.9 170.4L1645.9 170.2L1648 170.2L1650 170.4L1652 170.7L1654 171.2L1656.1 171.8L1658.1 172.6L1660.1 173.5L1662.1 174.6L1664.2 175.7L1666.2 177L1668.2 178.4L1670.2 179.9L1672.3 181.4L1674.3 183L1676.3 184.7L1678.4 186.3L1680.4 188L1682.4 189.6L1684.4 191.2L1686.5 192.8L1688.5 194.3L1690.5 195.7L1692.5 197.1L1694.6 198.3L1696.6 199.5L1698.6 200.4L1700.6 201.3L1702.7 202L1704.7 202.6L1706.7 203L1708.7 203.2L1710.8 203.3L1712.8 203.2L1714.8 203L1716.8 202.6L1718.9 202L1720.9 201.3L1722.9 200.4L1724.9 199.4L1727 198.3L1729 197L1731 195.7L1733 194.2L1735.1 192.7L1737.1 191.1L1739.1 189.5L1741.2 601L2247.6 601" stroke="#231f20" stroke-width="4" fill="none" stroke-linejoin="round" stroke-linecap="butt" shape-rendering="crispEdges"/>
<path d="M1234.7 185.7L1236.7 184L1238.8 182.4L1240.8 180.8L1242.8 179.3L1244.8 177.9L1246.9 176.5L1248.9 175.3L1250.9 174.1L1252.9 173.1L1255 172.3L1257 171.5L1259 171L1261 170.5L1263.1 170.3L1265.1 170.2L1267.1 170.3L1269.1 170.5L1271.2 170.9L1273.2 171.4L1275.2 172.2L1277.2 173L1279.3 174L1281.3 175.1L1283.3 176.4L1285.3 177.7L1287.4 179.1L1289.4 180.6L1291.4 182.2L1293.4 183.8L1295.5 185.5L1297.5 187.1L1299.5 188.8L1301.6 190.4L1303.6 192L1305.6 193.6L1307.6 195L1309.7 196.4L1311.7 197.7L1313.7 198.9L1315.7 200L1317.8 200.9L1319.8 201.7L1321.8 202.3L1323.8 202.8L1325.9 203.1L1327.9 203.3L1329.9 203.3L1331.9 203.1L1334 202.8L1336 202.3L1338 201.7L1340 200.9L1342.1 199.9L1344.1 198.9L1346.1 197.7L1348.1 196.4L1350.2 195L1352.2 193.5L1354.2 191.9L1356.2 190.3L1358.3 188.7L1360.3 187.1L1362.3 185.4L1364.4 183.8L1366.4 182.1L1368.4 180.6L1370.4 179.1L1372.5 177.7L1374.5 176.3L1376.5 175.1L1378.5 174L1380.6 173L1382.6 172.1L1384.6 171.4L1386.6 170.9L1388.7 170.5L1390.7 170.2L1392.7 170.2L1394.7 170.3L1396.8 170.5L1398.8 171L1400.8 171.6L1402.8 172.3L1404.9 173.2L1406.9 174.2L1408.9 175.3L1410.9 176.6L1413 177.9L1415 179.4L1417 180.9L1419 182.5L1421.1 184.1L1423.1 185.8L1425.1 187.4L1427.2 189.1L1429.2 190.7L1431.2 192.3L1433.2 193.8L1435.3 195.3L1437.3 196.6L1439.3 197.9L1441.3 199.1L1443.4 200.1L1445.4 201L1447.4 201.8L1449.4 202.4L1451.5 202.9L1453.5 203.2L1455.5 203.3L1457.5 203.3L1459.6 203.1L1461.6 202.7L1463.6 202.2L1465.6 201.5L1467.7 200.7L1469.7 199.7L1471.7 198.7L1473.7 197.4L1475.8 196.1L1477.8 194.7L1479.8 193.2L1481.8 191.7L1483.9 190.1L1485.9 188.4L1487.9 186.8L1490 185.1L1492 183.5L1494 181.9L1496 180.3L1498.1 178.8L1500.1 177.4L1502.1 176.1L1504.1 174.9L1506.2 173.8L1508.2 172.8L1510.2 172L1512.2 171.3L1514.3 170.8L1516.3 170.4L1518.3 170.2L1520.3 170.2L1522.4 170.3L1524.4 170.6L1526.4 171.1L1528.4 171.7L1530.5 172.4L1532.5 173.3L1534.5 174.4L1536.5 175.5L1538.6 176.8L1540.6 178.2L1542.6 179.6L1544.6 181.2L1546.7 182.8L1548.7 184.4L1550.7 186L1552.8 187.7L1554.8 189.3L1556.8 191L1558.8 192.5L1560.9 194.1L1562.9 195.5L1564.9 196.9L1566.9 198.1L1569 199.3L1571 200.3L1573 201.2L1575 201.9L1577.1 202.5L1579.1 202.9L1581.1 203.2L1583.1 203.3L1585.2 203.3L1587.2 203L1589.2 202.6L1591.2 202.1L1593.3 201.4L1595.3 200.6L1597.3 199.6L1599.3 198.5L1601.4 197.2L1603.4 195.9L1605.4 194.5L1607.4 193L1609.5 191.4L1611.5 189.8L1613.5 188.2L1615.6 186.5L1617.6 184.8L1619.6 183.2L1621.6 181.6L1623.7 180.1L1625.7 178.6L1627.7 177.2L1629.7 175.9L1631.8 174.7L1633.8 173.6L1635.8 172.7L1637.8 171.9L1639.9 171.2L1641.9 170.7L1643.9 170.4L1645.9 170.2L1648 170.2L1650 170.4L1652 170.7L1654 171.2L1656.1 171.8L1658.1 172.6L1660.1 173.5L1662.1 174.6L1664.2 175.7L1666.2 177L1668.2 178.4L1670.2 179.9L1672.3 181.4L1674.3 183L1676.3 184.7L1678.4 186.3L1680.4 188L1682.4 189.6L1684.4 191.2L1686.5 192.8L1688.5 194.3L1690.5 195.7L1692.5 197.1L1694.6 198.3L1696.6 199.5L1698.6 200.4L1700.6 201.3L1702.7 202L1704.7 202.6L1706.7 203L1708.7 203.2L1710.8 203.3L1712.8 203.2L1714.8 203L1716.8 202.6L1718.9 202L1720.9 201.3L1722.9 200.4L1724.9 199.4L1727 198.3L1729 197L1731 195.7L1733 194.2L1735.1 192.7L1737.1 191.1L1739.1 189.5" stroke="#231f20" stroke-width="4.6" fill="none" stroke-linejoin="round" stroke-linecap="butt" shape-rendering="crispEdges"/>

<text class="tk" transform="translate(220.8 843.8) scale(1 1.035)" text-anchor="middle">0</text>
<text class="tk" transform="translate(423.4 843.8) scale(1 1.035)" text-anchor="middle">10</text>
<text class="tk" transform="translate(626.0 843.8) scale(1 1.035)" text-anchor="middle">20</text>
<text class="tk" transform="translate(828.5 843.8) scale(1 1.035)" text-anchor="middle">30</text>
<text class="tk" transform="translate(1031.1 843.8) scale(1 1.035)" text-anchor="middle">40</text>
<text class="tk" transform="translate(1233.7 843.8) scale(1 1.035)" text-anchor="middle">50</text>
<text class="tk" transform="translate(1436.3 843.8) scale(1 1.035)" text-anchor="middle">60</text>
<text class="tk" transform="translate(1638.9 843.8) scale(1 1.035)" text-anchor="middle">70</text>
<text class="tk" transform="translate(1841.4 843.8) scale(1 1.035)" text-anchor="middle">80</text>
<text class="tk" transform="translate(2044.0 843.8) scale(1 1.035)" text-anchor="middle">90</text>
<text class="tk" transform="translate(2246.6 843.8) scale(1 1.035)" text-anchor="middle">100</text>
<text class="tk" transform="translate(202.0 788.0) scale(1 1.035)" text-anchor="end">-0.1</text>
<text class="tk" transform="translate(202.0 623.0) scale(1 1.035)" text-anchor="end">0</text>
<text class="tk" transform="translate(202.0 457.0) scale(1 1.035)" text-anchor="end">0.1</text>
<text class="tk" transform="translate(202.0 291.0) scale(1 1.035)" text-anchor="end">0.2</text>
<text class="tk" transform="translate(202.0 126.0) scale(1 1.035)" text-anchor="end">0.3</text>
<text class="lb" transform="translate(1234.0 926.5) scale(1 1.03)" text-anchor="middle">Time(s)</text>
<text class="lb" transform="translate(80 435.0) rotate(-90) scale(1 1.03)" text-anchor="middle">Fault Amplitude</text>
<rect x="273.0" y="34.0" width="887.0" height="289.0" fill="#fff" stroke="#4d4d4f" stroke-width="4"/>
<path d="M291 76.0H479" stroke="#0072bd" stroke-width="4"/>
<text class="lg" transform="translate(491.8 95.2) scale(1 1.03)">PI Observer (p=0.6)</text>
<path d="M291 144.3H479" stroke="#d95319" stroke-width="4"/>
<text class="lg" transform="translate(491.8 163.5) scale(1 1.03)">PI Observer (p=1.0)</text>
<path d="M291 212.7H479" stroke="#edb120" stroke-width="4"/>
<text class="lg" transform="translate(491.8 231.9) scale(1 1.03)">Adaptive Nonlinear Observer</text>
<path d="M291 281.0H479" stroke="#231f20" stroke-width="4"/>
<text class="lg" transform="translate(491.8 300.2) scale(1 1.03)">System Fault</text>
<path d="M424.0 1035.0V1695.0M627.0 1035.0V1695.0M830.0 1035.0V1695.0M1032.0 1035.0V1695.0M1235.0 1035.0V1695.0M1437.0 1035.0V1695.0M1640.0 1035.0V1695.0M1842.0 1035.0V1695.0M2045.0 1035.0V1695.0M2248.0 1035.0V1695.0" stroke="#4d4d4f" stroke-opacity=".174" stroke-width="4" fill="none" shape-rendering="crispEdges"/>
<path d="M222 1531.0H2250.0M222 1366.0H2250.0M222 1202.0H2250.0M222 1037.0H2250.0" stroke="#4d4d4f" stroke-opacity=".174" stroke-width="4" fill="none" shape-rendering="crispEdges"/>
<path d="M222 1037.0V1695.0H2248.0" stroke="#4d4d4f" stroke-width="4" fill="none" stroke-linecap="square" stroke-linejoin="miter" shape-rendering="crispEdges"/>
<path d="M222.0 1695.0V1673.0M424.0 1695.0V1673.0M627.0 1695.0V1673.0M830.0 1695.0V1673.0M1032.0 1695.0V1673.0M1235.0 1695.0V1673.0M1437.0 1695.0V1673.0M1640.0 1695.0V1673.0M1842.0 1695.0V1673.0M2045.0 1695.0V1673.0M2248.0 1695.0V1673.0M222 1695.0H244M222 1531.0H244M222 1366.0H244M222 1202.0H244M222 1037.0H244" stroke="#4d4d4f" stroke-width="4" fill="none" shape-rendering="crispEdges"/>
<path d="M221.8 1366L726.2 1366L728.2 1547L730.3 1456.5L732.3 1418.6L734.3 1411L736.4 1399.8L738.4 1398.4L740.4 1391.7L742.4 1402.3L744.5 1397.2L746.5 1395.4L748.5 1398.6L750.5 1386.2L752.6 1384.7L754.6 1397.4L756.6 1392.1L758.6 1385.2L760.7 1389.1L762.7 1376.8L764.7 1411.5L766.7 1407.6L768.8 1390.9L770.8 1423.8L772.8 1413.7L774.8 1390.5L776.9 1393.3L778.9 1404.4L780.9 1401.6L782.9 1390L785 1387.8L787 1366.6L789 1402.5L791 1398.5L793.1 1380.8L795.1 1397.8L797.1 1393L799.2 1366.7L801.2 1394.7L803.2 1398.4L805.2 1385.7L807.3 1398.5L809.3 1394.1L811.3 1368.7L813.3 1385.3L815.4 1402.5L817.4 1389.8L819.4 1404.1L821.4 1425.5L823.5 1400.3L825.5 1384.8L827.5 1401.9L829.5 1403L831.6 1428.9L833.6 1459.5L835.6 1416L837.6 1408L839.7 1411.5L841.7 1400.3L843.7 1405L845.7 1399.5L847.8 1380.1L849.8 1400L851.8 1413.3L853.8 1389.4L855.9 1378.3L857.9 1419.9L859.9 1400.8L862 1402.8L864 1397.4L866 1380.7L868 1403.5L870.1 1423.5L872.1 1399.8L874.1 1399.4L876.1 1395L878.2 1377.4L880.2 1377.3L882.2 1392L884.2 1394.7L886.3 1414.5L888.3 1424.1L890.3 1383.2L892.3 1397.7L894.4 1401.1L896.4 1398.7L898.4 1422.4L900.4 1437.9L902.5 1406.5L904.5 1395.8L906.5 1397.3L908.5 1395.5L910.6 1407.2L912.6 1401.1L914.6 1387.1L916.6 1385.1L918.7 1416.1L920.7 1403.1L922.7 1409.4L924.8 1436.3L926.8 1415L928.8 1412.4L930.8 1390.1L932.9 1395.2L934.9 1410.4L936.9 1413.1L938.9 1386.8L941 1369.6L943 1386.2L945 1405.8L947 1400L949.1 1381.1L951.1 1363.8L953.1 1357.7L955.1 1383.7L957.2 1412.5L959.2 1407.9L961.2 1385.8L963.2 1383.3L965.3 1386.1L967.3 1386.5L969.3 1396L971.3 1409.6L973.4 1397.6L975.4 1406.7L977.4 1426.7L979.4 1429.4L981.5 1406.5L983.5 1393.4L985.5 1359.2L987.6 1377.1L989.6 1377.3L991.6 1360.7L993.6 1371L995.7 1388.7L997.7 1367.3L999.7 1356.5L1001.7 1381.6L1003.8 1370.4L1005.8 1369.8L1007.8 1383.6L1009.8 1362.5L1011.9 1400.6L1013.9 1396.1L1015.9 1375.2L1017.9 1404L1020 1435L1022 1407.3L1024 1395.9L1026 1385.3L1028.1 1357.7L1030.1 1379.5L1032.1 1393L1034.1 1398.2L1036.2 1396L1038.2 1390.4L1040.2 1372.9L1042.2 1387.1L1044.3 1394.6L1046.3 1391.8L1048.3 1397.5L1050.4 1395.4L1052.4 1399.8L1054.4 1425.7L1056.4 1442.5L1058.5 1372L1060.5 1391.7L1062.5 1401.2L1064.5 1399.9L1066.6 1396.8L1068.6 1384L1070.6 1385.8L1072.6 1389.9L1074.7 1379.3L1076.7 1383.3L1078.7 1408.1L1080.7 1391.4L1082.8 1375.4L1084.8 1371.8L1086.8 1354.4L1088.8 1398.3L1090.9 1454.9L1092.9 1421.3L1094.9 1420.2L1096.9 1434.6L1099 1411.1L1101 1405.3L1103 1414.1L1105 1407.2L1107.1 1399.2L1109.1 1405.2L1111.1 1394.8L1113.2 1406.4L1115.2 1435.1L1117.2 1402.5L1119.2 1370.3L1121.3 1411L1123.3 1434.6L1125.3 1398.9L1127.3 1409.5L1129.4 1406.8L1131.4 1383.8L1133.4 1399.8L1135.4 1394.9L1137.5 1375.6L1139.5 1421.6L1141.5 1396.1L1143.5 1380.3L1145.6 1411.4L1147.6 1421.1L1149.6 1393.5L1151.6 1418.1L1153.7 1429.4L1155.7 1417.4L1157.7 1411.2L1159.7 1391.8L1161.8 1380.6L1163.8 1373.9L1165.8 1383L1167.8 1368.1L1169.9 1402.8L1171.9 1425L1173.9 1413.8L1176 1404.5L1178 1383.3L1180 1398.5L1182 1410.6L1184.1 1392.3L1186.1 1385.7L1188.1 1403.1L1190.1 1389.7L1192.2 1389.5L1194.2 1406.7L1196.2 1413.9L1198.2 1406.6L1200.3 1396.2L1202.3 1376.6L1204.3 1369.8L1206.3 1380.4L1208.4 1378.7L1210.4 1394.2L1212.4 1415.3L1214.4 1429L1216.5 1418.1L1218.5 1402.7L1220.5 1377.9L1222.5 1368.9L1224.6 1395.5L1226.6 1408.9L1228.6 1400.1L1230.6 1382.2L1232.7 1376.3L1234.7 1532.9L1236.7 1480.9L1238.8 1453.1L1240.8 1442.6L1242.8 1425.2L1244.8 1401.9L1246.9 1395.7L1248.9 1411.1L1250.9 1417.8L1252.9 1445.2L1255 1433.1L1257 1417.7L1259 1422.4L1261 1425L1263.1 1425.3L1265.1 1433.7L1267.1 1427.4L1269.1 1428.7L1271.2 1445.2L1273.2 1465.6L1275.2 1490.2L1277.2 1464.2L1279.3 1426.2L1281.3 1422.9L1283.3 1433.3L1285.3 1420L1287.4 1409.7L1289.4 1429.4L1291.4 1421.4L1293.4 1417.7L1295.5 1436L1297.5 1422.4L1299.5 1418.3L1301.6 1421.6L1303.6 1407.6L1305.6 1418.2L1307.6 1435.2L1309.7 1430.6L1311.7 1434.1L1313.7 1444L1315.7 1436.5L1317.8 1438.1L1319.8 1421L1321.8 1382.5L1323.8 1401.1L1325.9 1422.8L1327.9 1431.3L1329.9 1414.2L1331.9 1406.6L1334 1389.6L1336 1384.4L1338 1400.2L1340 1395.4L1342.1 1392.3L1344.1 1388.7L1346.1 1388.5L1348.1 1402.3L1350.2 1417.5L1352.2 1415.9L1354.2 1432.3L1356.2 1449.4L1358.3 1417.9L1360.3 1434.1L1362.3 1452.4L1364.4 1422.6L1366.4 1412.5L1368.4 1396.6L1370.4 1392.9L1372.5 1405.4L1374.5 1397.7L1376.5 1376.8L1378.5 1372.5L1380.6 1403.5L1382.6 1422.6L1384.6 1413.4L1386.6 1402.2L1388.7 1375.8L1390.7 1428.5L1392.7 1478.1L1394.7 1446.1L1396.8 1432.3L1398.8 1437.3L1400.8 1433.8L1402.8 1437.2L1404.9 1431.5L1406.9 1417.5L1408.9 1448L1410.9 1472.4L1413 1441.6L1415 1432L1417 1435.1L1419 1411.9L1421.1 1401.9L1423.1 1413.2L1425.1 1416.1L1427.2 1439.6L1429.2 1414.4L1431.2 1381.9L1433.2 1425L1435.3 1450.5L1437.3 1438.1L1439.3 1441.7L1441.3 1472L1443.4 1444.7L1445.4 1436.7L1447.4 1409.8L1449.4 1383.5L1451.5 1433.7L1453.5 1464.2L1455.5 1500.7L1457.5 1477.2L1459.6 1437.6L1461.6 1416.3L1463.6 1404.3L1465.6 1404.4L1467.7 1408.9L1469.7 1421.8L1471.7 1410.9L1473.7 1405.6L1475.8 1411.8L1477.8 1401.8L1479.8 1394.6L1481.8 1397.9L1483.9 1397.9L1485.9 1409L1487.9 1402.8L1490 1412.3L1492 1395.5L1494 1382.7L1496 1391.1L1498.1 1409.5L1500.1 1412L1502.1 1436.9L1504.1 1476.7L1506.2 1458.5L1508.2 1423L1510.2 1403.3L1512.2 1414.4L1514.3 1408.6L1516.3 1409.3L1518.3 1413.1L1520.3 1400.4L1522.4 1413L1524.4 1431.5L1526.4 1408.2L1528.4 1403.2L1530.5 1394.8L1532.5 1392.9L1534.5 1406.1L1536.5 1385.5L1538.6 1419.6L1540.6 1473.4L1542.6 1454L1544.6 1420.7L1546.7 1426.2L1548.7 1426L1550.7 1426.5L1552.8 1419L1554.8 1407.1L1556.8 1421.6L1558.8 1449.2L1560.9 1475.3L1562.9 1445.3L1564.9 1436.7L1566.9 1417.4L1569 1468.4L1571 1461.6L1573 1450.9L1575 1451.2L1577.1 1449.9L1579.1 1443.2L1581.1 1485.1L1583.1 1435.7L1585.2 1380.4L1587.2 1395.3L1589.2 1427.8L1591.2 1423.1L1593.3 1412.9L1595.3 1446.4L1597.3 1471.9L1599.3 1441.1L1601.4 1427.2L1603.4 1404.5L1605.4 1404.6L1607.4 1419.4L1609.5 1405.1L1611.5 1387.1L1613.5 1385L1615.6 1403.5L1617.6 1417.4L1619.6 1418.7L1621.6 1404.9L1623.7 1408.6L1625.7 1427L1627.7 1402.9L1629.7 1376.6L1631.8 1408.1L1633.8 1423.1L1635.8 1437L1637.8 1439.1L1639.9 1428.2L1641.9 1446.1L1643.9 1480.1L1645.9 1442L1648 1413.2L1650 1436.2L1652 1414.2L1654 1441.7L1656.1 1475.4L1658.1 1448.7L1660.1 1433.7L1662.1 1493.3L1664.2 1465.1L1666.2 1445.8L1668.2 1434.5L1670.2 1412.8L1672.3 1397.2L1674.3 1388.4L1676.3 1392L1678.4 1385.3L1680.4 1384.3L1682.4 1395.9L1684.4 1415.7L1686.5 1444.1L1688.5 1435.4L1690.5 1439.7L1692.5 1430.8L1694.6 1403.3L1696.6 1424.9L1698.6 1444.7L1700.6 1423L1702.7 1416L1704.7 1413.8L1706.7 1413.7L1708.7 1410L1710.8 1402.6L1712.8 1406.3L1714.8 1422.1L1716.8 1440.3L1718.9 1417.6L1720.9 1415.3L1722.9 1440.5L1724.9 1417.1L1727 1414.5L1729 1431.5L1731 1409.2L1733 1400L1735.1 1448L1737.1 1429.6L1739.1 1430.5L1741.2 1193.3L1743.2 1283.8L1745.2 1333.1L1747.2 1326.9L1749.3 1320.8L1751.3 1316.9L1753.3 1350.9L1755.3 1379.2L1757.4 1347.1L1759.4 1363L1761.4 1375.7L1763.4 1368.3L1765.5 1356.6L1767.5 1342.1L1769.5 1342.6L1771.5 1368.2L1773.6 1389L1775.6 1391.4L1777.6 1384.5L1779.6 1360.8L1781.7 1347.8L1783.7 1367.2L1785.7 1377.9L1787.7 1385.3L1789.8 1381L1791.8 1385.2L1793.8 1405L1795.8 1414L1797.9 1381.2L1799.9 1366.5L1801.9 1362.5L1803.9 1355.8L1806 1363L1808 1358.6L1810 1365.9L1812.1 1390.9L1814.1 1390.2L1816.1 1388.1L1818.1 1378.4L1820.2 1360.2L1822.2 1350.4L1824.2 1353.8L1826.2 1368.7L1828.3 1379.9L1830.3 1387.8L1832.3 1382.4L1834.3 1362.1L1836.4 1355.4L1838.4 1365.4L1840.4 1373.2L1842.4 1365.7L1844.5 1340.2L1846.5 1374.8L1848.5 1371.4L1850.5 1349.7L1852.6 1381.4L1854.6 1392.2L1856.6 1388.5L1858.6 1389.3L1860.7 1381.8L1862.7 1358.3L1864.7 1367.3L1866.7 1383.5L1868.8 1385L1870.8 1369L1872.8 1369.2L1874.9 1347.9L1876.9 1361.3L1878.9 1381.6L1880.9 1350.4L1883 1352.1L1885 1388.9L1887 1348.5L1889 1357.3L1891.1 1388.7L1893.1 1348.7L1895.1 1362.1L1897.1 1388.5L1899.2 1347.9L1901.2 1365.7L1903.2 1386.8L1905.2 1346.6L1907.3 1367L1909.3 1382.2L1911.3 1345.4L1913.3 1367.7L1915.4 1377.6L1917.4 1344.3L1919.4 1367.8L1921.4 1373L1923.5 1343.4L1925.5 1369.3L1927.5 1372.6L1929.5 1342.5L1931.6 1373.8L1933.6 1372.4L1935.6 1342.9L1937.7 1375.6L1939.7 1371.1L1941.7 1343.3L1943.7 1377.3L1945.8 1369.8L1947.8 1343.7L1949.8 1378.8L1951.8 1368.1L1953.9 1344.1L1955.9 1379.9L1957.9 1366.3L1959.9 1344.5L1962 1380.9L1964 1364.8L1966 1346.9L1968 1381.9L1970.1 1364.5L1972.1 1350.3L1974.1 1382.9L1976.1 1364.5L1978.2 1353.7L1980.2 1383.7L1982.2 1364.3L1984.2 1355.7L1986.3 1384.6L1988.3 1363.2L1990.3 1356.9L1992.3 1385.4L1994.4 1361.9L1996.4 1358.2L1998.4 1384.7L2000.5 1359.9L2002.5 1358L2004.5 1384L2006.5 1357.4L2008.6 1358.9L2010.6 1383.3L2012.6 1356.4L2014.6 1360.6L2016.7 1382.6L2018.7 1356.9L2020.7 1365L2022.7 1386.1L2024.8 1358.1L2026.8 1366.9L2028.8 1384.9L2030.8 1355.3L2032.9 1367.2L2034.9 1383.8L2036.9 1352.4L2038.9 1367.6L2041 1382.4L2043 1349.5L2045 1368.2L2047 1380.9L2049.1 1348.1L2051.1 1369.7L2053.1 1379.2L2055.1 1347.5L2057.2 1370.8L2059.2 1377.3L2061.2 1346.8L2063.3 1371.9L2065.3 1375.3L2067.3 1346.2L2069.3 1373L2071.4 1373.4L2073.4 1345.9L2075.4 1373.8L2077.4 1371.8L2079.5 1346.3L2081.5 1374.3L2083.5 1370.3L2085.5 1346.6L2087.6 1374.8L2089.6 1368.9L2091.6 1347L2093.6 1375.4L2095.7 1367.5L2097.7 1347.7L2099.7 1376.5L2101.7 1367.2L2103.8 1349.1L2105.8 1378L2107.8 1366.9L2109.8 1350.5L2111.9 1379.5L2113.9 1366.6L2115.9 1351.9L2117.9 1380.7L2120 1366L2122 1353.1L2124 1381.3L2126.1 1365L2128.1 1353.8L2130.1 1382L2132.1 1364L2134.2 1354.5L2136.2 1382.6L2138.2 1362.9L2140.2 1355.2L2142.3 1383.1L2144.3 1361.7L2146.3 1355.9L2148.3 1383.5L2150.4 1360.5L2152.4 1356.6L2154.4 1384L2156.4 1359.2L2158.5 1357.3L2160.5 1384.4L2162.5 1357.8L2164.5 1358.3L2166.6 1384.2L2168.6 1357.1L2170.6 1359.9L2172.6 1383.7L2174.7 1356.4L2176.7 1361.3L2178.7 1383.1L2180.7 1355.7L2182.8 1362.6L2184.8 1382.5L2186.8 1355L2188.9 1363.8L2190.9 1382L2192.9 1354.1L2194.9 1364.9L2197 1381.1L2199 1353.3L2201 1365.8L2203 1380.1L2205.1 1352.5L2207.1 1366.7L2209.1 1379.1L2211.1 1351.6L2213.2 1367.6L2215.2 1378L2217.2 1350.8L2219.2 1368.4L2221.3 1376.8L2223.3 1349.9L2225.3 1369.1L2227.3 1375.5L2229.4 1348.9L2231.4 1369.7L2233.4 1374.3L2235.4 1347.5L2237.5 1370.5L2239.5 1373L2241.5 1346.7L2243.5 1371.6L2245.6 1372L2247.6 1346.9" stroke="#0072bd" stroke-width="4.5" fill="none" stroke-linejoin="round" stroke-linecap="butt" shape-rendering="crispEdges"/>
<path d="M221.8 1366L726.2 1366L728.2 1597.9L730.3 1564.4L732.3 1538.1L734.3 1517.3L736.4 1498.4L738.4 1488.2L740.4 1477.9L742.4 1471L744.5 1464.1L746.5 1459L748.5 1453.8L750.5 1450.4L752.6 1447L754.6 1445.3L756.6 1443.6L758.6 1442.8L760.7 1442.1L762.7 1441.3L764.7 1442.4L766.7 1443.6L768.8 1445.3L770.8 1447L772.8 1446.1L774.8 1445.3L776.9 1444.4L778.9 1443.6L780.9 1442.7L782.9 1441L785 1439.3L787 1437.6L789 1440.6L791 1443.6L793.1 1442.3L795.1 1441L797.1 1440.1L799.2 1439.3L801.2 1440.4L803.2 1441.6L805.2 1442.7L807.3 1441.8L809.3 1441L811.3 1439.3L813.3 1437.6L815.4 1439.3L817.4 1441L819.4 1442.1L821.4 1443.3L823.5 1444.4L825.5 1443.1L827.5 1441.8L829.5 1443.6L831.6 1448.7L833.6 1453.8L835.6 1454.7L837.6 1454.1L839.7 1453.6L841.7 1453L843.7 1451.6L845.7 1450.1L847.8 1448.7L849.8 1444.8L851.8 1441L853.8 1438.6L855.9 1436.2L857.9 1437.5L859.9 1438.8L862 1440.1L864 1439.1L866 1438.1L868 1438.9L870.1 1439.7L872.1 1440.5L874.1 1439.3L876.1 1438.1L878.2 1436.4L880.2 1434.6L882.2 1436L884.2 1437.4L886.3 1438.8L888.3 1439.6L890.3 1440.5L892.3 1439.9L894.4 1439.3L896.4 1438.8L898.4 1442.4L900.4 1446.1L902.5 1446.4L904.5 1446.7L906.5 1447L908.5 1448.3L910.6 1449.6L912.6 1452.6L914.6 1451.2L916.6 1449.8L918.7 1448.4L920.7 1449.4L922.7 1450.4L924.8 1450.8L926.8 1451.2L928.8 1451.6L930.8 1445.3L932.9 1443.7L934.9 1442.2L936.9 1440.7L938.9 1439.3L941 1436.7L943 1437.6L945 1438.4L947 1437.6L949.1 1436.7L951.1 1434.1L953.1 1431.6L955.1 1432.4L957.2 1433.3L959.2 1434.3L961.2 1435.3L963.2 1436.4L965.3 1437.4L967.3 1438.4L969.3 1440.7L971.3 1443L973.4 1445.3L975.4 1448.3L977.4 1451.3L979.4 1454.3L981.5 1457.3L983.5 1451.3L985.5 1445.3L987.6 1442.1L989.6 1439L991.6 1435.8L993.6 1436.3L995.7 1436.7L997.7 1434.4L999.7 1432.1L1001.7 1429.8L1003.8 1428.3L1005.8 1426.8L1007.8 1425.3L1009.8 1423.8L1011.9 1429.3L1013.9 1434.7L1015.9 1440.1L1017.9 1443.6L1020 1447L1022 1445.3L1024 1443.6L1026 1441.6L1028.1 1439.6L1030.1 1437.6L1032.1 1441L1034.1 1444.4L1036.2 1446.1L1038.2 1447.8L1040.2 1447L1042.2 1446.1L1044.3 1445.3L1046.3 1444.7L1048.3 1444.1L1050.4 1443.6L1052.4 1445.8L1054.4 1448.1L1056.4 1450.4L1058.5 1446.1L1060.5 1447.4L1062.5 1448.7L1064.5 1444.7L1066.6 1440.7L1068.6 1436.7L1070.6 1437L1072.6 1437.3L1074.7 1437.6L1076.7 1440.6L1078.7 1443.6L1080.7 1440.1L1082.8 1436.7L1084.8 1433.7L1086.8 1430.7L1088.8 1438.8L1090.9 1447L1092.9 1448.1L1094.9 1449.3L1096.9 1450.4L1099 1451.6L1101 1452.7L1103 1453.8L1105 1452.6L1107.1 1451.3L1109.1 1447.4L1111.1 1443.6L1113.2 1442.1L1115.2 1440.6L1117.2 1439.1L1119.2 1437.6L1121.3 1440.6L1123.3 1443.6L1125.3 1444.4L1127.3 1445.3L1129.4 1446.1L1131.4 1445L1133.4 1443.8L1135.4 1442.7L1137.5 1442.9L1139.5 1443.1L1141.5 1443.3L1143.5 1443.6L1145.6 1443.3L1147.6 1443L1149.6 1442.7L1151.6 1443.6L1153.7 1444.4L1155.7 1445.3L1157.7 1444.1L1159.7 1443L1161.8 1441.8L1163.8 1439.6L1165.8 1437.3L1167.8 1435L1169.9 1438.4L1171.9 1441.8L1173.9 1442.1L1176 1442.3L1178 1442.5L1180 1442.7L1182 1441.4L1184.1 1440.1L1186.1 1438.8L1188.1 1437.6L1190.1 1439.6L1192.2 1441.6L1194.2 1443.6L1196.2 1446.4L1198.2 1449.3L1200.3 1452.1L1202.3 1448.4L1204.3 1444.7L1206.3 1441L1208.4 1438.4L1210.4 1435.8L1212.4 1437.6L1214.4 1439.3L1216.5 1441L1218.5 1438.3L1220.5 1435.7L1222.5 1433L1224.6 1430.4L1226.6 1433.4L1228.6 1436.4L1230.6 1437.7L1232.7 1439L1234.7 1600.7L1236.7 1586.4L1238.8 1577.7L1240.8 1562.2L1242.8 1551.6L1244.8 1541.1L1246.9 1520.1L1248.9 1519.6L1250.9 1519.1L1252.9 1520.9L1255 1522.6L1257 1518.2L1259 1513.7L1261 1509.8L1263.1 1505.8L1265.1 1504.4L1267.1 1502.9L1269.1 1501.2L1271.2 1500L1273.2 1498.6L1275.2 1507.3L1277.2 1505L1279.3 1502.6L1281.3 1500.1L1283.3 1497.1L1285.3 1494.1L1287.4 1490.9L1289.4 1491.2L1291.4 1491.3L1293.4 1491.4L1295.5 1492.1L1297.5 1492.7L1299.5 1493.4L1301.6 1492L1303.6 1490.7L1305.6 1489.5L1307.6 1490.6L1309.7 1491.8L1311.7 1491.7L1313.7 1491.6L1315.7 1491.7L1317.8 1492.5L1319.8 1493.4L1321.8 1488.9L1323.8 1484.6L1325.9 1491.6L1327.9 1498.7L1329.9 1494.7L1331.9 1490.9L1334 1487.2L1336 1483.7L1338 1480.3L1340 1477.1L1342.1 1474.9L1344.1 1472.8L1346.1 1470.8L1348.1 1474.4L1350.2 1478.1L1352.2 1481.8L1354.2 1487.4L1356.2 1493L1358.3 1498.6L1360.3 1503.4L1362.3 1508.2L1364.4 1512.9L1366.4 1508.5L1368.4 1504.1L1370.4 1502.7L1372.5 1501.3L1374.5 1499.8L1376.5 1492.4L1378.5 1484.9L1380.6 1494.9L1382.6 1504.8L1384.6 1499L1386.6 1493.2L1388.7 1493.1L1390.7 1492.9L1392.7 1501.1L1394.7 1509.2L1396.8 1507.6L1398.8 1505.9L1400.8 1504.9L1402.8 1503.7L1404.9 1502.4L1406.9 1501L1408.9 1500.4L1410.9 1499.8L1413 1499L1415 1496.7L1417 1494.3L1419 1490.6L1421.1 1486.9L1423.1 1489L1425.1 1491L1427.2 1493.1L1429.2 1481.2L1431.2 1477.9L1433.2 1474.7L1435.3 1476.4L1437.3 1478.1L1439.3 1480L1441.3 1484.6L1443.4 1489.3L1445.4 1494.1L1447.4 1485.6L1449.4 1477.3L1451.5 1475.1L1453.5 1490.2L1455.5 1505.5L1457.5 1501.6L1459.6 1497.8L1461.6 1494.1L1463.6 1492.9L1465.6 1491.9L1467.7 1491L1469.7 1492.2L1471.7 1493.6L1473.7 1495.1L1475.8 1493.7L1477.8 1492.3L1479.8 1491.1L1481.8 1489.9L1483.9 1488.8L1485.9 1487.7L1487.9 1486.8L1490 1485.9L1492 1484.6L1494 1483.4L1496 1482L1498.1 1484L1500.1 1485.8L1502.1 1496.1L1504.1 1506.3L1506.2 1510.8L1508.2 1508.4L1510.2 1505.8L1512.2 1502.1L1514.3 1498.4L1516.3 1497.5L1518.3 1496.4L1520.3 1497.3L1522.4 1498L1524.4 1495.4L1526.4 1492.7L1528.4 1489.8L1530.5 1487.3L1532.5 1484.7L1534.5 1482L1536.5 1479.1L1538.6 1485.5L1540.6 1491.9L1542.6 1493L1544.6 1494.1L1546.7 1495.1L1548.7 1495.6L1550.7 1496.1L1552.8 1494.8L1554.8 1493.4L1556.8 1492.1L1558.8 1497.9L1560.9 1503.9L1562.9 1509.9L1564.9 1505.9L1566.9 1502.1L1569 1503.5L1571 1505.1L1573 1504.8L1575 1504.6L1577.1 1504.6L1579.1 1507.6L1581.1 1510.8L1583.1 1496.1L1585.2 1481.6L1587.2 1482L1589.2 1482.6L1591.2 1483.4L1593.3 1484.3L1595.3 1488L1597.3 1491.8L1599.3 1495.8L1601.4 1494.9L1603.4 1494L1605.4 1494.6L1607.4 1495.2L1609.5 1495.9L1611.5 1489.8L1613.5 1483.7L1615.6 1486.2L1617.6 1488.7L1619.6 1491.2L1621.6 1492.5L1623.7 1493.7L1625.7 1494.9L1627.7 1492L1629.7 1489L1631.8 1493.9L1633.8 1498.7L1635.8 1503.4L1637.8 1508.5L1639.9 1513.4L1641.9 1518.2L1643.9 1522.8L1645.9 1519L1648 1515L1650 1510.8L1652 1509.2L1654 1507.5L1656.1 1506.2L1658.1 1504.9L1660.1 1503.4L1662.1 1504.1L1664.2 1504.6L1666.2 1505L1668.2 1499.9L1670.2 1494.8L1672.3 1489.5L1674.3 1482.4L1676.3 1475.2L1678.4 1471.4L1680.4 1467.6L1682.4 1471.1L1684.4 1474.7L1686.5 1479.4L1688.5 1484.2L1690.5 1489L1692.5 1490L1694.6 1491.1L1696.6 1492.2L1698.6 1493.4L1700.6 1494.7L1702.7 1491.4L1704.7 1488.2L1706.7 1485.3L1708.7 1481.6L1710.8 1478.1L1712.8 1481.3L1714.8 1484.7L1716.8 1488.3L1718.9 1489.9L1720.9 1491.7L1722.9 1493.6L1724.9 1495.7L1727 1493.4L1729 1491.2L1731 1489.1L1733 1488.8L1735.1 1488.6L1737.1 1491.9L1739.1 1495.2L1741.2 1111L1743.2 1165L1745.2 1207.6L1747.2 1241.2L1749.3 1267.6L1751.3 1288.5L1753.3 1304.9L1755.3 1317.8L1757.4 1328.1L1759.4 1336.1L1761.4 1342.5L1763.4 1347.5L1765.5 1351.5L1767.5 1354.8L1769.5 1357.4L1771.5 1359.6L1773.6 1361.5L1775.6 1363.1L1777.6 1364.6L1779.6 1366L1781.7 1367.3L1783.7 1368.4L1785.7 1369.4L1787.7 1370.2L1789.8 1370.8L1791.8 1371.1L1793.8 1371.1L1795.8 1370.9L1797.9 1370.5L1799.9 1369.9L1801.9 1369.3L1803.9 1368.6L1806 1368L1808 1367.4L1810 1367L1812.1 1366.6L1814.1 1366.3L1816.1 1366L1818.1 1365.7L1820.2 1365.4L1822.2 1365.1L1824.2 1364.9L1826.2 1364.7L1830.3 1364.7L1832.3 1364.9L1834.3 1365.1L1836.4 1365.3L1838.4 1365.5L1840.4 1365.7L1842.4 1365.8L1844.5 1365.9L1846.5 1365.9L1848.5 1366L2247.6 1366" stroke="#d95319" stroke-width="4.5" fill="none" stroke-linejoin="round" stroke-linecap="butt" shape-rendering="crispEdges"/>
<path d="M221.8 1366L726.2 1366L728.2 1566.7L730.3 1489.4L732.3 1449.9L734.3 1430.2L736.4 1419.5L738.4 1414.8L740.4 1408.3L742.4 1410.9L744.5 1407.6L746.5 1403.5L748.5 1404.6L750.5 1400.6L752.6 1403.7L754.6 1412.8L756.6 1408.2L758.6 1405.5L760.7 1406.3L762.7 1401.2L764.7 1408.6L766.7 1413.7L768.8 1414.8L770.8 1417.3L772.8 1416.1L774.8 1409.8L776.9 1405.4L778.9 1410.4L780.9 1411.1L782.9 1405.2L785 1401.2L787 1391.2L789 1405.2L791 1424.1L793.1 1412.6L795.1 1405.2L797.1 1403.5L799.2 1395.2L801.2 1405.3L803.2 1417.2L805.2 1407.2L807.3 1400.9L809.3 1401.4L811.3 1394.4L813.3 1391.6L815.4 1399.5L817.4 1400.8L819.4 1405.2L821.4 1411.4L823.5 1412L825.5 1407.7L827.5 1402.4L829.5 1408.4L831.6 1425.5L833.6 1444.5L835.6 1423.9L837.6 1423.4L839.7 1422.7L841.7 1416.9L843.7 1416.4L845.7 1415.1L847.8 1406.5L849.8 1401.8L851.8 1400.4L853.8 1394.5L855.9 1394.3L857.9 1404.1L859.9 1409.9L862 1408.5L864 1405.5L866 1399.5L868 1405.8L870.1 1411.3L872.1 1404.7L874.1 1404.2L876.1 1402.5L878.2 1395.7L880.2 1394.8L882.2 1397.8L884.2 1398.1L886.3 1402.7L888.3 1403.1L890.3 1399.5L892.3 1405.3L894.4 1407.3L896.4 1411.1L898.4 1422.4L900.4 1429.5L902.5 1413.4L904.5 1404.7L906.5 1406.2L908.5 1406.5L910.6 1418.1L912.6 1426.7L914.6 1416.4L916.6 1413.1L918.7 1403.3L920.7 1405.8L922.7 1413.5L924.8 1427.2L926.8 1417.1L928.8 1411.9L930.8 1403L932.9 1399.9L934.9 1401.6L936.9 1402.4L938.9 1405.2L941 1400.1L943 1390.7L945 1393.8L947 1402.6L949.1 1393.2L951.1 1386.2L953.1 1382L955.1 1385.7L957.2 1391.8L959.2 1400.7L961.2 1405.3L963.2 1412.5L965.3 1408.1L967.3 1397.1L969.3 1410L971.3 1424.1L973.4 1416.7L975.4 1414.4L977.4 1423.5L979.4 1428.3L981.5 1436.9L983.5 1418.9L985.5 1396.7L987.6 1392.7L989.6 1390.2L991.6 1382L993.6 1402.9L995.7 1397.7L997.7 1386.9L999.7 1382.4L1001.7 1385.3L1003.8 1382.7L1005.8 1382.3L1007.8 1382.1L1009.8 1376.6L1011.9 1406.8L1013.9 1412.2L1015.9 1412.7L1017.9 1418.5L1020 1423.7L1022 1411.3L1024 1406.1L1026 1398.3L1028.1 1385.9L1030.1 1399.1L1032.1 1409.2L1034.1 1416.8L1036.2 1415.9L1038.2 1413.1L1040.2 1407L1042.2 1405.7L1044.3 1400.9L1046.3 1403L1048.3 1411L1050.4 1418L1052.4 1423.6L1054.4 1435.2L1056.4 1421.4L1058.5 1406.4L1060.5 1414.8L1062.5 1418.9L1064.5 1421.9L1066.6 1407.9L1068.6 1388.4L1070.6 1391L1072.6 1399.4L1074.7 1403.7L1076.7 1409.1L1078.7 1421.9L1080.7 1409.7L1082.8 1397.9L1084.8 1390.2L1086.8 1377.7L1088.8 1405.7L1090.9 1437.5L1092.9 1430.2L1094.9 1422.7L1096.9 1422.1L1099 1424.7L1101 1429.1L1103 1438.5L1105 1425L1107.1 1413.7L1109.1 1411.5L1111.1 1403.7L1113.2 1413.3L1115.2 1425.8L1117.2 1410.4L1119.2 1395L1121.3 1418L1123.3 1433.5L1125.3 1429.5L1127.3 1429.2L1129.4 1423.1L1131.4 1414.3L1133.4 1408.6L1135.4 1403.2L1137.5 1400.5L1139.5 1406.3L1141.5 1406L1143.5 1407.5L1145.6 1407.8L1147.6 1400.4L1149.6 1408.9L1151.6 1419L1153.7 1416.6L1155.7 1418.1L1157.7 1413.2L1159.7 1403.8L1161.8 1397.6L1163.8 1396.5L1165.8 1389.7L1167.8 1387.4L1169.9 1407.7L1171.9 1424L1173.9 1418.5L1176 1413.7L1178 1403.5L1180 1404L1182 1403.2L1184.1 1397.2L1186.1 1396.4L1188.1 1403.7L1190.1 1406L1192.2 1412.1L1194.2 1419.2L1196.2 1421.5L1198.2 1429.4L1200.3 1416.8L1202.3 1401.3L1204.3 1398L1206.3 1393.2L1208.4 1384.1L1210.4 1389L1212.4 1391.9L1214.4 1391L1216.5 1422.9L1218.5 1420.2L1220.5 1414L1222.5 1413.8L1224.6 1410.9L1226.6 1406.7L1228.6 1408.6L1230.6 1407.3L1232.7 1404.4L1234.7 1555.4L1236.7 1495.4L1238.8 1477.1L1240.8 1464.7L1242.8 1451.9L1244.8 1437.1L1246.9 1434.8L1248.9 1428.4L1250.9 1450.3L1252.9 1479.5L1255 1466.5L1257 1452.1L1259 1452L1261 1445.4L1263.1 1437.9L1265.1 1444.8L1267.1 1446.6L1269.1 1445.5L1271.2 1449.4L1273.2 1467.3L1275.2 1486.8L1277.2 1471L1279.3 1451.2L1281.3 1445.5L1283.3 1444.5L1285.3 1437.7L1287.4 1432L1289.4 1441.1L1291.4 1442.8L1293.4 1442.6L1295.5 1446.6L1297.5 1444.7L1299.5 1440.8L1301.6 1442.2L1303.6 1436.2L1305.6 1438.9L1307.6 1445.1L1309.7 1443.8L1311.7 1444.9L1313.7 1449.3L1315.7 1451.3L1317.8 1456.5L1319.8 1444.8L1321.8 1425.6L1323.8 1440.9L1325.9 1457.1L1327.9 1469.2L1329.9 1459.5L1331.9 1451.9L1334 1438.7L1336 1434.8L1338 1431L1340 1421.6L1342.1 1413.7L1344.1 1407.2L1346.1 1415.7L1348.1 1429L1350.2 1436.3L1352.2 1439.8L1354.2 1448.3L1356.2 1457.2L1358.3 1460.9L1360.3 1452.3L1362.3 1476.1L1364.4 1452.9L1366.4 1436.7L1368.4 1435.6L1370.4 1429.7L1372.5 1429.3L1374.5 1421.7L1376.5 1409.6L1378.5 1403.1L1380.6 1441.4L1382.6 1477.2L1384.6 1459.8L1386.6 1442.1L1388.7 1418.7L1390.7 1434.5L1392.7 1447.8L1394.7 1473.8L1396.8 1461.8L1398.8 1448.6L1400.8 1445.3L1402.8 1447.8L1404.9 1447.2L1406.9 1448.7L1408.9 1454.4L1410.9 1458.3L1413 1451.6L1415 1450.8L1417 1446.4L1419 1438.2L1421.1 1435.9L1423.1 1447.2L1425.1 1458.6L1427.2 1451.7L1429.2 1442.1L1431.2 1429.7L1433.2 1423L1435.3 1435.7L1437.3 1446.1L1439.3 1463.7L1441.3 1462.7L1443.4 1461.6L1445.4 1465.8L1447.4 1447.8L1449.4 1428.4L1451.5 1414.2L1453.5 1457.9L1455.5 1503.1L1457.5 1490.6L1459.6 1472.6L1461.6 1455.8L1463.6 1448.5L1465.6 1433.9L1467.7 1434.7L1469.7 1439.8L1471.7 1444.7L1473.7 1452.7L1475.8 1453.4L1477.8 1448.3L1479.8 1445.6L1481.8 1446.5L1483.9 1441.5L1485.9 1433.5L1487.9 1427L1490 1429.1L1492 1433.1L1494 1427.1L1496 1414L1498.1 1426.5L1500.1 1441.4L1502.1 1456.7L1504.1 1477.4L1506.2 1462.2L1508.2 1441.2L1510.2 1438.6L1512.2 1436L1514.3 1427.4L1516.3 1425.4L1518.3 1431.9L1520.3 1430.9L1522.4 1436L1524.4 1435.2L1526.4 1428.8L1528.4 1425.7L1530.5 1424.4L1532.5 1416.1L1534.5 1412.5L1536.5 1408.7L1538.6 1426.3L1540.6 1447.5L1542.6 1448.3L1544.6 1444.2L1546.7 1443.1L1548.7 1442.6L1550.7 1437L1552.8 1437.2L1554.8 1435.9L1556.8 1449L1558.8 1465.9L1560.9 1481.7L1562.9 1466.5L1564.9 1458.9L1566.9 1447.5L1569 1461.1L1571 1465.1L1573 1465.4L1575 1463L1577.1 1463.7L1579.1 1461.4L1581.1 1499.4L1583.1 1461.3L1585.2 1421.4L1587.2 1422.4L1589.2 1429.4L1591.2 1432.7L1593.3 1432.6L1595.3 1437.3L1597.3 1448.9L1599.3 1459.6L1601.4 1450.5L1603.4 1437L1605.4 1430.3L1607.4 1429L1609.5 1422.4L1611.5 1413.8L1613.5 1410.7L1615.6 1420.7L1617.6 1428.7L1619.6 1434.3L1621.6 1434.7L1623.7 1435.2L1625.7 1433.8L1627.7 1425.2L1629.7 1417.1L1631.8 1436.3L1633.8 1449.7L1635.8 1454.2L1637.8 1464.6L1639.9 1469.2L1641.9 1474.8L1643.9 1484.4L1645.9 1464.9L1648 1448.8L1650 1448.8L1652 1442.8L1654 1452.7L1656.1 1464.2L1658.1 1455.4L1660.1 1450.9L1662.1 1478.6L1664.2 1463L1666.2 1450.4L1668.2 1441.2L1670.2 1430.7L1672.3 1422.7L1674.3 1417L1676.3 1409.9L1678.4 1406.5L1680.4 1405.2L1682.4 1413.1L1684.4 1425.2L1686.5 1443.3L1688.5 1457.3L1690.5 1453L1692.5 1449.9L1694.6 1441.8L1696.6 1444.3L1698.6 1448.2L1700.6 1446.7L1702.7 1438.2L1704.7 1431.6L1706.7 1424.1L1708.7 1421.9L1710.8 1419.7L1712.8 1427L1714.8 1438.4L1716.8 1445.7L1718.9 1448.4L1720.9 1445.8L1722.9 1442.2L1724.9 1438.7L1727 1441L1729 1442L1731 1428.8L1733 1420L1735.1 1429L1737.1 1433.3L1739.1 1437.7L1741.2 1114.3L1743.2 1250.8L1745.2 1346.3L1747.2 1341.8L1749.3 1337.3L1751.3 1334L1753.3 1344.6L1755.3 1351.4L1757.4 1349.5L1759.4 1343.8L1761.4 1350L1763.4 1363.6L1765.5 1358.2L1767.5 1349.5L1769.5 1348.3L1771.5 1358.3L1773.6 1365.4L1775.6 1373.6L1777.6 1377.1L1779.6 1378.1L1781.7 1373L1783.7 1363L1785.7 1366.9L1787.7 1378L1789.8 1380.1L1791.8 1380.2L1793.8 1387.5L1795.8 1389.4L1797.9 1376.7L1799.9 1371.1L1801.9 1367.6L1803.9 1362.8L1806 1364.9L1808 1361.2L1810 1368.4L1812.1 1382.5L1814.1 1382.1L1816.1 1381.1L1818.1 1377.9L1820.2 1368.4L1822.2 1358.7L1824.2 1360.9L1826.2 1356.6L1828.3 1359.7L1830.3 1369.1L1832.3 1371.9L1834.3 1364.9L1836.4 1364L1838.4 1356.3L1840.4 1352.6L1842.4 1354.8L1844.5 1349.9L1846.5 1355.9L1848.5 1368.2L1850.5 1366.9L1852.6 1367.2L1854.6 1377L1856.6 1369.8L1858.6 1366.7L1860.7 1376.3L1862.7 1367.4L1864.7 1364.6L1866.7 1376.1L1868.8 1364.8L1870.8 1361.7L1872.8 1372L1874.9 1359.8L1876.9 1359.2L1878.9 1372.9L1880.9 1359.3L1883 1360.7L1885 1374.7L1887 1359.3L1889 1362.7L1891.1 1374.6L1893.1 1359.4L1895.1 1364.5L1897.1 1374.6L1899.2 1359.1L1901.2 1365.9L1903.2 1373.9L1905.2 1358.6L1907.3 1366.4L1909.3 1372.2L1911.3 1358.2L1913.3 1366.6L1915.4 1370.4L1917.4 1357.8L1919.4 1366.7L1921.4 1368.6L1923.5 1357.4L1925.5 1367.3L1927.5 1368.5L1929.5 1357.1L1931.6 1369L1933.6 1368.4L1935.6 1357.2L1937.7 1369.6L1939.7 1367.9L1941.7 1357.4L1943.7 1370.3L1945.8 1367.5L1947.8 1357.5L1949.8 1370.9L1951.8 1366.8L1953.9 1357.7L1955.9 1371.3L1957.9 1366.1L1959.9 1357.8L1962 1371.7L1964 1365.5L1966 1358.7L1968 1372.1L1970.1 1365.4L1972.1 1360L1974.1 1372.4L1976.1 1365.4L1978.2 1361.3L1980.2 1372.7L1982.2 1365.3L1984.2 1362.1L1986.3 1373.1L1988.3 1364.9L1990.3 1362.5L1992.3 1373.4L1994.4 1364.5L1996.4 1363L1998.4 1373.1L2000.5 1363.7L2002.5 1363L2004.5 1372.8L2006.5 1362.7L2008.6 1363.3L2010.6 1372.6L2012.6 1362.4L2014.6 1364L2016.7 1372.3L2018.7 1362.5L2020.7 1365.6L2022.7 1373.6L2024.8 1363L2026.8 1366.4L2028.8 1373.2L2030.8 1361.9L2032.9 1366.4L2034.9 1372.8L2036.9 1360.8L2038.9 1366.6L2041 1372.2L2043 1359.7L2045 1366.8L2047 1371.7L2049.1 1359.2L2051.1 1367.4L2053.1 1371L2055.1 1359L2057.2 1367.8L2059.2 1370.3L2061.2 1358.7L2063.3 1368.3L2065.3 1369.5L2067.3 1358.5L2069.3 1368.7L2071.4 1368.8L2073.4 1358.4L2075.4 1368.9L2077.4 1368.2L2079.5 1358.5L2081.5 1369.2L2083.5 1367.6L2085.5 1358.6L2087.6 1369.4L2089.6 1367.1L2091.6 1358.8L2093.6 1369.6L2095.7 1366.6L2097.7 1359.1L2099.7 1370L2101.7 1366.4L2103.8 1359.6L2105.8 1370.6L2107.8 1366.3L2109.8 1360.1L2111.9 1371.1L2113.9 1366.2L2115.9 1360.6L2117.9 1371.6L2120 1366L2122 1361.1L2124 1371.8L2126.1 1365.6L2128.1 1361.4L2130.1 1372.1L2132.1 1365.2L2134.2 1361.6L2136.2 1372.3L2138.2 1364.8L2140.2 1361.9L2142.3 1372.5L2144.3 1364.4L2146.3 1362.2L2148.3 1372.7L2150.4 1363.9L2152.4 1362.4L2154.4 1372.8L2156.4 1363.4L2158.5 1362.7L2160.5 1373L2162.5 1362.9L2164.5 1363.1L2166.6 1372.9L2168.6 1362.6L2170.6 1363.7L2172.6 1372.7L2174.7 1362.3L2176.7 1364.2L2178.7 1372.5L2180.7 1362.1L2182.8 1364.7L2184.8 1372.3L2186.8 1361.8L2188.9 1365.2L2190.9 1372.1L2192.9 1361.5L2194.9 1365.6L2197 1371.7L2199 1361.2L2201 1365.9L2203 1371.3L2205.1 1360.9L2207.1 1366.3L2209.1 1371L2211.1 1360.5L2213.2 1366.6L2215.2 1370.6L2217.2 1360.2L2219.2 1366.9L2221.3 1370.1L2223.3 1359.9L2225.3 1367.2L2227.3 1369.6L2229.4 1359.5L2231.4 1367.4L2233.4 1369.1L2235.4 1359L2237.5 1367.7L2239.5 1368.7L2241.5 1358.6L2243.5 1368.1L2245.6 1368.3L2247.6 1358.7" stroke="#edb120" stroke-width="4.5" fill="none" stroke-linejoin="round" stroke-linecap="butt" shape-rendering="crispEdges"/>

<text class="tk" transform="translate(220.8 1772.8) scale(1 1.035)" text-anchor="middle">0</text>
<text class="tk" transform="translate(423.4 1772.8) scale(1 1.035)" text-anchor="middle">10</text>
<text class="tk" transform="translate(626.0 1772.8) scale(1 1.035)" text-anchor="middle">20</text>
<text class="tk" transform="translate(828.5 1772.8) scale(1 1.035)" text-anchor="middle">30</text>
<text class="tk" transform="translate(1031.1 1772.8) scale(1 1.035)" text-anchor="middle">40</text>
<text class="tk" transform="translate(1233.7 1772.8) scale(1 1.035)" text-anchor="middle">50</text>
<text class="tk" transform="translate(1436.3 1772.8) scale(1 1.035)" text-anchor="middle">60</text>
<text class="tk" transform="translate(1638.9 1772.8) scale(1 1.035)" text-anchor="middle">70</text>
<text class="tk" transform="translate(1841.4 1772.8) scale(1 1.035)" text-anchor="middle">80</text>
<text class="tk" transform="translate(2044.0 1772.8) scale(1 1.035)" text-anchor="middle">90</text>
<text class="tk" transform="translate(2246.6 1772.8) scale(1 1.035)" text-anchor="middle">100</text>
<text class="tk" transform="translate(202.0 1717.0) scale(1 1.035)" text-anchor="end">-0.2</text>
<text class="tk" transform="translate(202.0 1553.0) scale(1 1.035)" text-anchor="end">-0.1</text>
<text class="tk" transform="translate(202.0 1388.0) scale(1 1.035)" text-anchor="end">0</text>
<text class="tk" transform="translate(202.0 1223.5) scale(1 1.035)" text-anchor="end">0.1</text>
<text class="tk" transform="translate(202.0 1059.0) scale(1 1.035)" text-anchor="end">0.2</text>
<text class="lb" transform="translate(1234.0 1855.5) scale(1 1.03)" text-anchor="middle">Time(s)</text>
<text class="lb" transform="translate(80 1367.5) rotate(-90) scale(1 1.03)" text-anchor="middle" style="font-size:61.6px">Residual Error of Estimation</text>
<rect x="273.0" y="1074.0" width="887.0" height="220.0" fill="#fff" stroke="#4d4d4f" stroke-width="4"/>
<path d="M291 1116.0H479" stroke="#0072bd" stroke-width="4"/>
<text class="lg" transform="translate(491.8 1135.2) scale(1 1.03)">PI Observer (p=0.6)</text>
<path d="M291 1184.0H479" stroke="#d95319" stroke-width="4"/>
<text class="lg" transform="translate(491.8 1203.2) scale(1 1.03)">PI Observer (p=1.0)</text>
<path d="M291 1252.0H479" stroke="#edb120" stroke-width="4"/>
<text class="lg" transform="translate(491.8 1271.2) scale(1 1.03)">Adaptive Nonlinear Observer</text>
</svg></body></html>
